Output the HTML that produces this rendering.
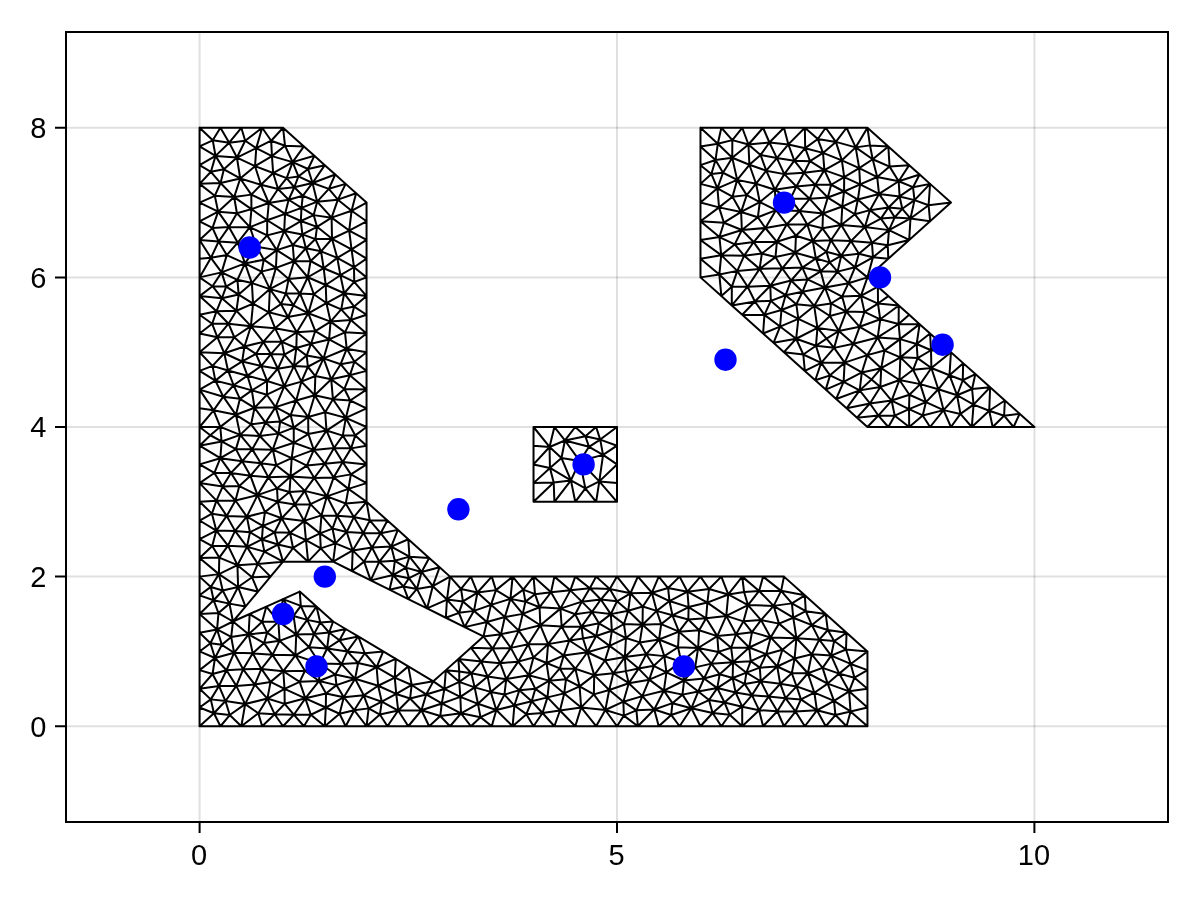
<!DOCTYPE html>
<html lang="en"><head><meta charset="utf-8"><title>Triangulation</title>
<style>html,body{margin:0;padding:0;background:#fff}svg{display:block}</style></head>
<body>
<svg width="1200" height="900" viewBox="0 0 1200 900">
<rect width="1200" height="900" fill="#fff"/>
<path d="M199.58 32 V822M617.00 32 V822M1034.42 32 V822" stroke="#000" stroke-opacity="0.12" stroke-width="2" fill="none"/>
<path d="M66 726.24 H1168M66 576.62 H1168M66 427.00 H1168M66 277.38 H1168M66 127.76 H1168" stroke="#000" stroke-opacity="0.12" stroke-width="2" fill="none"/>
<g stroke="#000" stroke-width="2" fill="none" stroke-linecap="round" stroke-linejoin="round">
<path d="M199.58 726.24L220.45 726.24M199.58 726.24L199.58 707.54M199.58 726.24L213.94 713.24M220.45 726.24L241.32 726.24M220.45 726.24L213.94 713.24M220.45 726.24L229.73 715.02M241.32 726.24L262.19 726.24M241.32 726.24L245.18 704.08M241.32 726.24L258.32 713.21M241.32 726.24L229.73 715.02M262.19 726.24L283.06 726.24M262.19 726.24L258.32 713.21M262.19 726.24L274.62 714.20M283.06 726.24L303.93 726.24M283.06 726.24L274.62 714.20M283.06 726.24L293.85 714.71M303.93 726.24L324.80 726.24M303.93 726.24L310.85 714.74M303.93 726.24L293.85 714.71M324.80 726.24L345.67 726.24M324.80 726.24L325.80 707.51M324.80 726.24L310.85 714.74M324.80 726.24L339.58 713.76M345.67 726.24L366.55 726.24M345.67 726.24L354.21 710.23M345.67 726.24L339.58 713.76M366.55 726.24L387.42 726.24M366.55 726.24L368.63 708.38M366.55 726.24L354.21 710.23M366.55 726.24L379.90 714.57M387.42 726.24L408.29 726.24M387.42 726.24L398.23 710.54M387.42 726.24L379.90 714.57M408.29 726.24L429.16 726.24M408.29 726.24L421.45 710.24M408.29 726.24L398.23 710.54M429.16 726.24L450.03 726.24M429.16 726.24L421.45 710.24M429.16 726.24L440.26 716.02M450.03 726.24L470.90 726.24M450.03 726.24L461.02 713.31M450.03 726.24L440.26 716.02M470.90 726.24L491.77 726.24M470.90 726.24L461.02 713.31M470.90 726.24L480.50 717.15M491.77 726.24L512.64 726.24M491.77 726.24L496.30 710.02M491.77 726.24L480.50 717.15M512.64 726.24L533.52 726.24M512.64 726.24L514.36 705.55M512.64 726.24L496.30 710.02M512.64 726.24L526.38 714.17M533.52 726.24L554.39 726.24M533.52 726.24L526.38 714.17M533.52 726.24L542.51 713.03M554.39 726.24L575.26 726.24M554.39 726.24L559.99 710.48M554.39 726.24L542.51 713.03M575.26 726.24L596.13 726.24M575.26 726.24L581.14 707.40M575.26 726.24L559.99 710.48M596.13 726.24L617.00 726.24M596.13 726.24L581.14 707.40M596.13 726.24L605.30 710.01M617.00 726.24L637.87 726.24M617.00 726.24L605.30 710.01M617.00 726.24L623.86 715.63M637.87 726.24L658.74 726.24M637.87 726.24L654.24 709.47M637.87 726.24L636.43 710.36M637.87 726.24L623.86 715.63M658.74 726.24L679.61 726.24M658.74 726.24L654.24 709.47M658.74 726.24L671.18 714.95M679.61 726.24L700.48 726.24M679.61 726.24L691.40 708.20M679.61 726.24L671.18 714.95M700.48 726.24L721.36 726.24M700.48 726.24L691.40 708.20M700.48 726.24L712.61 713.03M721.36 726.24L742.23 726.24M721.36 726.24L712.61 713.03M721.36 726.24L729.65 714.78M742.23 726.24L763.10 726.24M742.23 726.24L742.19 706.67M742.23 726.24L759.09 710.16M742.23 726.24L729.65 714.78M763.10 726.24L783.97 726.24M763.10 726.24L777.33 711.26M763.10 726.24L759.09 710.16M783.97 726.24L804.84 726.24M783.97 726.24L777.33 711.26M783.97 726.24L795.49 711.51M804.84 726.24L825.71 726.24M804.84 726.24L816.93 710.28M804.84 726.24L795.49 711.51M825.71 726.24L846.58 726.24M825.71 726.24L816.93 710.28M825.71 726.24L835.44 715.06M846.58 726.24L867.45 726.24M846.58 726.24L850.55 711.45M846.58 726.24L835.44 715.06M867.45 726.24L867.45 707.54M867.45 726.24L850.55 711.45M867.45 707.54L867.45 688.84M867.45 707.54L849.10 691.34M867.45 707.54L850.55 711.45M867.45 688.84L867.45 670.13M867.45 688.84L849.10 691.34M867.45 688.84L854.45 677.67M867.45 670.13L867.45 651.43M867.45 670.13L850.70 663.95M867.45 670.13L854.45 677.67M867.45 651.43L846.58 632.73M867.45 651.43L845.98 649.54M867.45 651.43L850.70 663.95M846.58 632.73L825.71 614.03M846.58 632.73L845.98 649.54M846.58 632.73L834.17 641.05M846.58 632.73L827.78 629.97M825.71 614.03L804.84 595.32M825.71 614.03L811.85 625.07M825.71 614.03L805.76 611.15M825.71 614.03L827.78 629.97M804.84 595.32L783.97 576.62M804.84 595.32L781.13 590.84M804.84 595.32L805.76 611.15M804.84 595.32L791.93 603.37M783.97 576.62L763.10 576.62M783.97 576.62L781.13 590.84M763.10 576.62L742.23 576.62M763.10 576.62L781.13 590.84M763.10 576.62L759.14 590.98M742.23 576.62L721.36 576.62M742.23 576.62L728.27 594.47M742.23 576.62L759.14 590.98M742.23 576.62L744.09 592.05M721.36 576.62L700.48 576.62M721.36 576.62L728.27 594.47M721.36 576.62L709.04 588.97M700.48 576.62L679.61 576.62M700.48 576.62L687.49 591.71M700.48 576.62L709.04 588.97M679.61 576.62L658.74 576.62M679.61 576.62L687.49 591.71M679.61 576.62L668.09 588.08M658.74 576.62L637.87 576.62M658.74 576.62L651.92 592.73M658.74 576.62L668.09 588.08M637.87 576.62L617.00 576.62M637.87 576.62L630.48 593.28M637.87 576.62L651.92 592.73M617.00 576.62L596.13 576.62M617.00 576.62L630.48 593.28M617.00 576.62L609.80 588.99M596.13 576.62L575.26 576.62M596.13 576.62L589.82 588.18M596.13 576.62L609.80 588.99M575.26 576.62L554.39 576.62M575.26 576.62L570.38 590.36M575.26 576.62L589.82 588.18M554.39 576.62L533.52 576.62M554.39 576.62L551.03 592.26M554.39 576.62L570.38 590.36M533.52 576.62L512.64 576.62M533.52 576.62L535.03 594.18M533.52 576.62L551.03 592.26M533.52 576.62L523.30 589.68M512.64 576.62L491.77 576.62M512.64 576.62L510.42 598.88M512.64 576.62L495.97 590.12M512.64 576.62L523.30 589.68M491.77 576.62L470.90 576.62M491.77 576.62L477.43 592.53M491.77 576.62L495.97 590.12M470.90 576.62L450.03 576.62M470.90 576.62L477.43 592.53M470.90 576.62L461.04 588.99M450.03 576.62L439.59 567.27M450.03 576.62L432.79 586.20M450.03 576.62L446.95 599.56M450.03 576.62L461.04 588.99M439.59 567.27L429.16 557.92M439.59 567.27L432.79 586.20M439.59 567.27L421.58 571.96M429.16 557.92L408.29 539.22M429.16 557.92L409.45 556.65M429.16 557.92L421.58 571.96M408.29 539.22L397.85 529.86M408.29 539.22L409.45 556.65M408.29 539.22L391.25 546.56M397.85 529.86L387.42 520.51M397.85 529.86L391.25 546.56M397.85 529.86L380.66 533.21M387.42 520.51L366.55 501.81M387.42 520.51L369.78 520.35M387.42 520.51L380.66 533.21M366.55 501.81L366.55 483.11M366.55 501.81L345.74 503.50M366.55 501.81L369.78 520.35M366.55 501.81L348.42 488.90M366.55 501.81L353.83 517.06M366.55 483.11L366.55 464.41M366.55 483.11L348.42 488.90M366.55 483.11L350.91 474.38M366.55 464.41L366.55 445.70M366.55 464.41L342.78 462.10M366.55 464.41L350.91 474.38M366.55 464.41L351.07 448.37M366.55 445.70L366.55 427.00M366.55 445.70L351.07 448.37M366.55 445.70L355.29 435.42M366.55 427.00L366.55 408.30M366.55 427.00L345.86 417.91M366.55 427.00L355.29 435.42M366.55 408.30L366.55 389.59M366.55 408.30L345.86 417.91M366.55 408.30L350.20 400.52M366.55 389.59L366.55 370.89M366.55 389.59L344.40 388.98M366.55 389.59L349.83 375.33M366.55 389.59L350.20 400.52M366.55 370.89L366.55 352.19M366.55 370.89L349.83 375.33M366.55 370.89L354.43 361.72M366.55 352.19L366.55 333.49M366.55 352.19L346.72 348.77M366.55 352.19L354.43 361.72M366.55 333.49L366.55 314.78M366.55 333.49L344.98 332.37M366.55 333.49L346.72 348.77M366.55 333.49L350.83 319.95M366.55 314.78L366.55 296.08M366.55 314.78L350.83 319.95M366.55 314.78L354.16 306.59M366.55 296.08L366.55 277.38M366.55 296.08L344.20 293.28M366.55 296.08L354.16 306.59M366.55 296.08L354.22 281.96M366.55 277.38L366.55 258.68M366.55 277.38L354.01 267.24M366.55 277.38L354.22 281.96M366.55 258.68L366.55 239.97M366.55 258.68L351.54 249.33M366.55 258.68L354.01 267.24M366.55 239.97L366.55 221.27M366.55 239.97L349.20 230.56M366.55 239.97L351.54 249.33M366.55 221.27L366.55 202.57M366.55 221.27L349.20 230.56M366.55 221.27L351.57 210.79M366.55 202.57L356.11 193.22M366.55 202.57L351.57 210.79M356.11 193.22L345.67 183.87M356.11 193.22L337.88 199.67M356.11 193.22L351.57 210.79M345.67 183.87L335.24 174.51M345.67 183.87L337.88 199.67M345.67 183.87L328.85 188.83M335.24 174.51L324.80 165.16M335.24 174.51L312.53 182.98M335.24 174.51L328.85 188.83M324.80 165.16L314.37 155.81M324.80 165.16L312.53 182.98M324.80 165.16L308.09 169.02M314.37 155.81L303.93 146.46M314.37 155.81L292.60 162.14M314.37 155.81L308.09 169.02M303.93 146.46L283.06 127.76M303.93 146.46L285.04 145.78M303.93 146.46L292.60 162.14M283.06 127.76L262.19 127.76M283.06 127.76L285.04 145.78M283.06 127.76L271.18 140.72M262.19 127.76L241.32 127.76M262.19 127.76L256.25 148.13M262.19 127.76L271.18 140.72M262.19 127.76L245.19 140.75M241.32 127.76L220.45 127.76M241.32 127.76L229.18 142.66M241.32 127.76L245.19 140.75M220.45 127.76L199.58 127.76M220.45 127.76L229.18 142.66M220.45 127.76L212.74 140.29M199.58 127.76L199.58 146.46M199.58 127.76L212.74 140.29M199.58 146.46L199.58 165.16M199.58 146.46L215.53 155.90M199.58 146.46L212.74 140.29M199.58 165.16L199.58 183.87M199.58 165.16L215.53 155.90M199.58 165.16L210.92 171.78M199.58 183.87L199.58 202.57M199.58 183.87L220.57 183.03M199.58 183.87L214.79 195.83M199.58 183.87L210.92 171.78M199.58 202.57L199.58 221.27M199.58 202.57L218.16 211.70M199.58 202.57L214.79 195.83M199.58 221.27L199.58 239.97M199.58 221.27L218.16 211.70M199.58 221.27L212.51 227.95M199.58 239.97L199.58 258.68M199.58 239.97L218.64 241.47M199.58 239.97L212.51 227.95M199.58 239.97L210.95 257.79M199.58 258.68L199.58 277.38M199.58 258.68L210.95 257.79M199.58 277.38L199.58 296.08M199.58 277.38L221.60 272.37M199.58 277.38L212.49 286.24M199.58 277.38L210.95 257.79M199.58 296.08L199.58 314.78M199.58 296.08L221.87 298.23M199.58 296.08L216.55 311.19M199.58 296.08L212.49 286.24M199.58 314.78L199.58 333.49M199.58 314.78L216.55 311.19M199.58 314.78L212.16 323.79M199.58 333.49L199.58 352.19M199.58 333.49L217.35 337.18M199.58 333.49L212.16 323.79M199.58 352.19L199.58 370.89M199.58 352.19L217.35 337.18M199.58 352.19L224.28 353.27M199.58 352.19L212.50 365.87M199.58 370.89L199.58 389.59M199.58 370.89L215.35 380.63M199.58 370.89L212.50 365.87M199.58 389.59L199.58 408.30M199.58 389.59L223.28 396.69M199.58 389.59L215.35 380.63M199.58 389.59L213.59 410.34M199.58 408.30L199.58 427.00M199.58 408.30L213.59 410.34M199.58 427.00L199.58 445.70M199.58 427.00L220.29 426.84M199.58 427.00L213.59 410.34M199.58 427.00L210.30 435.25M199.58 445.70L199.58 464.41M199.58 445.70L221.58 441.48M199.58 445.70L220.33 458.21M199.58 445.70L210.30 435.25M199.58 464.41L199.58 483.11M199.58 464.41L220.33 458.21M199.58 464.41L214.38 472.95M199.58 483.11L199.58 501.81M199.58 483.11L222.66 486.57M199.58 483.11L216.47 500.63M199.58 483.11L214.38 472.95M199.58 501.81L199.58 520.51M199.58 501.81L216.47 500.63M199.58 501.81L211.96 513.64M199.58 520.51L199.58 539.22M199.58 520.51L216.31 530.61M199.58 520.51L211.96 513.64M199.58 539.22L199.58 557.92M199.58 539.22L216.31 530.61M199.58 539.22L212.23 546.08M199.58 557.92L199.58 576.62M199.58 557.92L219.28 557.60M199.58 557.92L218.92 574.13M199.58 557.92L212.23 546.08M199.58 576.62L199.58 595.32M199.58 576.62L218.92 574.13M199.58 576.62L210.82 586.92M199.58 595.32L199.58 614.03M199.58 595.32L210.82 586.92M199.58 595.32L213.64 600.25M199.58 614.03L199.58 632.73M199.58 614.03L218.48 613.05M199.58 614.03L217.07 629.44M199.58 614.03L213.64 600.25M199.58 632.73L199.58 651.43M199.58 632.73L217.07 629.44M199.58 632.73L210.47 643.20M199.58 651.43L199.58 670.13M199.58 651.43L215.01 657.96M199.58 651.43L210.47 643.20M199.58 670.13L199.58 688.84M199.58 670.13L215.01 657.96M199.58 670.13L212.53 674.03M199.58 688.84L199.58 707.54M199.58 688.84L218.98 685.98M199.58 688.84L210.77 699.37M199.58 688.84L212.53 674.03M199.58 707.54L213.94 713.24M199.58 707.54L210.77 699.37M232.97 621.51L249.67 614.03M232.97 621.51L245.49 606.55M232.97 621.51L218.48 613.05M232.97 621.51L248.60 634.31M232.97 621.51L217.07 629.44M232.97 621.51L229.44 603.63M232.97 621.51L231.18 636.91M249.67 614.03L266.36 606.55M249.67 614.03L248.60 634.31M249.67 614.03L262.19 621.82M266.36 606.55L283.06 599.06M266.36 606.55L278.39 621.42M266.36 606.55L262.19 621.82M283.06 599.06L299.76 591.58M283.06 599.06L293.57 615.95M283.06 599.06L278.39 621.42M283.06 599.06L300.81 605.91M299.76 591.58L316.45 606.55M299.76 591.58L300.81 605.91M316.45 606.55L333.15 621.51M316.45 606.55L307.20 619.87M316.45 606.55L300.81 605.91M316.45 606.55L320.30 622.40M333.15 621.51L345.67 628.99M333.15 621.51L329.11 632.52M333.15 621.51L320.30 622.40M345.67 628.99L358.20 636.47M345.67 628.99L339.48 640.30M345.67 628.99L329.11 632.52M358.20 636.47L383.24 651.43M358.20 636.47L347.38 651.43M358.20 636.47L364.77 653.25M358.20 636.47L339.48 640.30M383.24 651.43L395.77 658.91M383.24 651.43L376.60 667.22M383.24 651.43L364.77 653.25M395.77 658.91L408.29 666.39M395.77 658.91L394.76 677.66M395.77 658.91L376.60 667.22M408.29 666.39L433.33 681.36M408.29 666.39L394.76 677.66M408.29 666.39L411.70 684.99M433.33 681.36L445.86 670.13M433.33 681.36L411.70 684.99M433.33 681.36L426.16 694.44M433.33 681.36L444.39 688.93M445.86 670.13L458.38 658.91M445.86 670.13L459.24 681.84M445.86 670.13L444.39 688.93M445.86 670.13L459.21 671.42M458.38 658.91L470.90 647.69M458.38 658.91L471.34 673.27M458.38 658.91L481.24 661.52M458.38 658.91L459.21 671.42M470.90 647.69L483.42 636.47M470.90 647.69L481.24 661.52M470.90 647.69L492.65 648.57M483.42 636.47L464.64 627.12M483.42 636.47L501.06 634.14M483.42 636.47L486.90 621.91M483.42 636.47L492.65 648.57M464.64 627.12L445.86 617.77M464.64 627.12L474.00 610.87M464.64 627.12L486.90 621.91M464.64 627.12L458.94 612.84M445.86 617.77L427.07 608.42M445.86 617.77L446.95 599.56M445.86 617.77L458.94 612.84M427.07 608.42L408.29 599.06M427.07 608.42L432.79 586.20M427.07 608.42L446.95 599.56M427.07 608.42L416.91 588.90M408.29 599.06L389.50 589.71M408.29 599.06L416.91 588.90M408.29 599.06L403.47 586.47M389.50 589.71L370.72 580.36M389.50 589.71L393.00 575.01M389.50 589.71L403.47 586.47M370.72 580.36L351.94 571.01M370.72 580.36L379.33 561.69M370.72 580.36L393.00 575.01M370.72 580.36L364.12 561.63M351.94 571.01L333.15 561.66M351.94 571.01L352.69 550.40M351.94 571.01L364.12 561.63M333.15 561.66L308.11 561.66M333.15 561.66L352.69 550.40M333.15 561.66L320.79 548.39M333.15 561.66L335.52 543.42M308.11 561.66L283.06 561.66M308.11 561.66L293.04 547.98M308.11 561.66L320.79 548.39M308.11 561.66L305.98 540.14M283.06 561.66L270.54 576.62M283.06 561.66L264.39 551.63M283.06 561.66L293.04 547.98M283.06 561.66L257.79 563.89M283.06 561.66L277.91 544.51M270.54 576.62L258.02 591.58M270.54 576.62L257.79 563.89M270.54 576.62L252.09 577.26M258.02 591.58L245.49 606.55M258.02 591.58L238.09 587.03M258.02 591.58L252.09 577.26M245.49 606.55L238.09 587.03M245.49 606.55L229.44 603.63M569.34 640.50L581.54 626.68M569.34 640.50L587.40 652.24M569.34 640.50L548.10 644.12M569.34 640.50L563.77 655.44M569.34 640.50L561.68 626.46M569.34 640.50L582.99 638.53M639.78 642.40L624.85 657.05M639.78 642.40L659.03 639.54M639.78 642.40L642.57 624.69M639.78 642.40L646.21 654.28M639.78 642.40L625.95 638.03M277.00 488.42L257.51 495.12M277.00 488.42L290.57 476.38M277.00 488.42L268.40 477.36M277.00 488.42L277.74 501.72M277.00 488.42L289.49 492.08M290.65 415.06L275.55 407.16M290.65 415.06L308.17 416.99M290.65 415.06L296.19 400.44M290.65 415.06L293.72 427.64M290.65 415.06L280.18 421.59M284.33 354.57L293.92 366.08M284.33 354.57L270.86 354.08M284.33 354.57L281.83 341.85M284.33 354.57L296.31 348.00M284.33 354.57L277.86 368.71M288.64 279.12L300.07 293.55M288.64 279.12L269.85 289.10M288.64 279.12L307.77 277.25M288.64 279.12L294.03 261.21M288.64 279.12L275.93 267.93M288.64 279.12L285.76 293.55M268.77 203.00L260.97 184.82M268.77 203.00L288.65 199.72M268.77 203.00L251.43 209.12M268.77 203.00L285.04 213.90M268.77 203.00L267.21 220.25M268.77 203.00L251.32 194.62M268.77 203.00L278.04 188.98M718.46 651.91L733.02 662.32M718.46 651.91L698.12 647.98M718.46 651.91L717.30 636.12M718.46 651.91L711.28 663.65M718.46 651.91L731.15 647.77M777.21 666.51L759.81 667.66M777.21 666.51L780.22 683.71M777.21 666.51L794.60 658.46M777.21 666.51L766.22 654.16M777.21 666.51L760.76 681.25M777.21 666.51L782.37 649.79M777.21 666.51L791.82 673.22M283.33 671.22L304.96 670.79M283.33 671.22L261.39 668.90M283.33 671.22L284.53 688.82M283.33 671.22L295.41 655.34M283.33 671.22L272.50 654.87M283.33 671.22L299.69 681.85M283.33 671.22L270.56 681.89M528.75 675.23L546.53 663.00M528.75 675.23L549.23 680.65M528.75 675.23L518.21 661.63M528.75 675.23L506.25 679.16M528.75 675.23L519.37 690.15M528.75 675.23L533.44 657.52M528.75 675.23L535.32 688.85M253.04 303.63L250.89 326.18M253.04 303.63L269.85 289.10M253.04 303.63L238.67 294.58M253.04 303.63L268.82 312.29M253.04 303.63L236.44 310.73M253.04 303.63L251.91 283.10M613.30 673.24L628.77 683.20M613.30 673.24L624.85 657.05M613.30 673.24L594.22 675.14M613.30 673.24L605.02 660.48M613.30 673.24L609.21 689.99M613.30 673.24L625.82 671.12M252.26 449.35L240.19 434.88M252.26 449.35L272.79 449.64M252.26 449.35L242.18 461.31M252.26 449.35L260.79 463.30M252.26 449.35L259.75 435.95M252.26 449.35L235.93 449.16M666.46 672.35L664.27 656.12M666.46 672.35L663.86 690.67M666.46 672.35L684.07 680.51M666.46 672.35L649.25 679.64M666.46 672.35L681.31 661.94M666.46 672.35L653.86 665.81M315.43 239.09L332.01 238.76M315.43 239.09L317.02 226.84M315.43 239.09L321.05 251.32M315.43 239.09L302.40 234.43M315.43 239.09L305.90 248.30M313.80 449.92L291.68 458.17M313.80 449.92L308.32 434.04M313.80 449.92L306.83 465.60M313.80 449.92L326.49 430.54M313.80 449.92L293.79 442.76M313.80 449.92L334.03 448.01M313.80 449.92L324.85 463.77M321.46 515.39L320.04 533.35M321.46 515.39L337.13 515.71M321.46 515.39L304.14 520.91M321.46 515.39L326.92 496.34M321.46 515.39L332.48 528.57M321.46 515.39L310.47 504.15M308.32 313.28L300.07 293.55M308.32 313.28L296.78 332.23M308.32 313.28L326.38 303.04M308.32 313.28L330.57 321.59M308.32 313.28L315.29 331.04M308.32 313.28L288.04 317.10M308.32 313.28L293.43 305.31M308.32 313.28L313.85 294.26M249.94 532.20L246.81 516.67M249.94 532.20L235.04 530.88M249.94 532.20L246.97 546.84M249.94 532.20L262.90 525.89M249.94 532.20L261.92 539.44M335.30 674.54L355.10 678.80M335.30 674.54L319.83 663.52M335.30 674.54L319.09 680.98M335.30 674.54L336.47 685.11M335.30 674.54L341.61 664.05M251.85 390.38L267.08 380.98M251.85 390.38L247.42 375.69M251.85 390.38L254.56 407.81M251.85 390.38L233.62 385.24M251.85 390.38L239.93 398.84M251.85 390.38L266.90 394.71M256.66 246.65L276.77 250.13M256.66 246.65L249.89 227.17M256.66 246.65L237.78 242.67M256.66 246.65L267.15 235.38M256.66 246.65L244.97 263.42M256.66 246.65L263.81 259.67M688.33 619.48L699.12 630.27M688.33 619.48L678.94 631.69M688.33 619.48L706.14 618.23M688.33 619.48L688.60 607.09M688.33 619.48L672.44 615.32M522.73 613.89L540.34 625.28M522.73 613.89L510.42 598.88M522.73 613.89L504.83 617.08M522.73 613.89L539.57 607.20M522.73 613.89L518.71 630.63M522.73 613.89L525.42 601.65M761.06 620.08L747.97 605.07M761.06 620.08L770.64 637.42M761.06 620.08L773.63 605.88M761.06 620.08L743.46 621.36M761.06 620.08L751.99 632.14M761.06 620.08L778.99 623.63M315.35 376.02L314.69 395.31M315.35 376.02L323.55 358.41M315.35 376.02L301.39 381.62M315.35 376.02L331.23 379.34M315.35 376.02L307.90 366.75M598.93 623.34L581.54 626.68M598.93 623.34L596.19 636.04M598.93 623.34L610.82 614.11M598.93 623.34L592.07 611.87M598.93 623.34L611.86 630.79M255.03 166.18L271.95 156.15M255.03 166.18L260.97 184.82M255.03 166.18L256.25 148.13M255.03 166.18L240.22 178.49M255.03 166.18L236.93 157.54M255.03 166.18L273.14 173.02M827.65 683.57L807.85 673.26M827.65 683.57L834.01 700.92M827.65 683.57L839.22 673.61M827.65 683.57L849.10 691.34M827.65 683.57L814.38 692.70M827.65 683.57L822.58 667.91M564.21 693.40L549.23 680.65M564.21 693.40L581.14 707.40M564.21 693.40L559.99 710.48M564.21 693.40L566.00 679.29M564.21 693.40L579.60 686.39M564.21 693.40L547.48 697.36M744.66 683.89L760.76 681.25M744.66 683.89L735.61 692.50M744.66 683.89L751.98 695.14M744.66 683.89L746.45 672.67M744.66 683.89L732.66 678.05M490.72 691.90L477.97 703.82M490.72 691.90L506.25 679.16M490.72 691.90L496.30 710.02M490.72 691.90L474.64 687.37M490.72 691.90L504.42 694.60M490.72 691.90L487.64 676.58M236.32 685.89L226.51 670.25M236.32 685.89L225.45 701.04M236.32 685.89L245.18 704.08M236.32 685.89L218.98 685.98M236.32 685.89L254.80 684.60M236.32 685.89L243.13 669.32M378.13 685.74L381.79 701.69M378.13 685.74L394.76 677.66M378.13 685.74L355.10 678.80M378.13 685.74L376.60 667.22M378.13 685.74L363.75 695.33M378.13 685.74L396.24 693.94M698.30 691.47L691.40 708.20M698.30 691.47L684.07 680.51M698.30 691.47L717.26 688.07M698.30 691.47L704.04 678.49M698.30 691.47L682.47 694.63M698.30 691.47L709.02 700.05M317.17 201.69L331.60 217.64M317.17 201.69L312.53 182.98M317.17 201.69L337.88 199.67M317.17 201.69L328.85 188.83M317.17 201.69L301.50 207.86M317.17 201.69L313.71 215.12M317.17 201.69L302.79 195.77M244.46 346.43L250.89 326.18M244.46 346.43L263.30 341.86M244.46 346.43L224.28 353.27M244.46 346.43L234.30 337.26M244.46 346.43L242.19 361.47M244.46 346.43L255.95 353.94M329.10 339.41L344.98 332.37M329.10 339.41L330.57 321.59M329.10 339.41L346.72 348.77M329.10 339.41L323.55 358.41M329.10 339.41L315.29 331.04M329.10 339.41L311.04 343.71M235.96 414.81L223.28 396.69M235.96 414.81L240.19 434.88M235.96 414.81L220.29 426.84M235.96 414.81L254.56 407.81M235.96 414.81L213.59 410.34M235.96 414.81L239.93 398.84M235.96 414.81L251.08 424.36M726.26 615.89L707.36 602.58M726.26 615.89L747.97 605.07M726.26 615.89L736.06 634.28M726.26 615.89L728.27 594.47M726.26 615.89L743.46 621.36M726.26 615.89L717.30 636.12M726.26 615.89L706.14 618.23M296.23 634.53L293.57 615.95M296.23 634.53L314.04 634.04M296.23 634.53L295.41 655.34M296.23 634.53L278.39 621.42M296.23 634.53L309.19 647.20M296.23 634.53L307.20 619.87M296.23 634.53L279.58 640.85M796.45 638.21L793.24 617.72M796.45 638.21L770.64 637.42M796.45 638.21L819.29 639.66M796.45 638.21L794.60 658.46M796.45 638.21L811.85 625.07M796.45 638.21L811.78 654.31M796.45 638.21L778.99 623.63M796.45 638.21L782.37 649.79M237.42 279.85L221.60 272.37M237.42 279.85L238.67 294.58M237.42 279.85L244.97 263.42M237.42 279.85L226.16 286.58M237.42 279.85L251.91 283.10M235.47 500.46L226.72 515.92M235.47 500.46L222.66 486.57M235.47 500.46L257.51 495.12M235.47 500.46L246.81 516.67M235.47 500.46L216.47 500.63M235.47 500.46L239.32 486.07M642.35 696.13L623.37 701.68M642.35 696.13L663.86 690.67M642.35 696.13L628.77 683.20M642.35 696.13L654.24 709.47M642.35 696.13L636.43 710.36M642.35 696.13L649.25 679.64M305.35 698.33L325.80 707.51M305.35 698.33L284.53 688.82M305.35 698.33L284.70 703.84M305.35 698.33L326.00 693.42M305.35 698.33L310.85 714.74M305.35 698.33L299.69 681.85M305.35 698.33L319.09 680.98M305.35 698.33L293.85 714.71M325.73 285.03L340.40 275.22M325.73 285.03L326.38 303.04M325.73 285.03L344.20 293.28M325.73 285.03L307.77 277.25M325.73 285.03L323.66 268.23M325.73 285.03L313.85 294.26M642.76 606.58L630.48 593.28M642.76 606.58L651.92 592.73M642.76 606.58L642.57 624.69M642.76 606.58L628.23 610.77M642.76 606.58L656.69 610.86M333.70 477.38L342.78 462.10M333.70 477.38L348.42 488.90M333.70 477.38L326.92 496.34M333.70 477.38L350.91 474.38M333.70 477.38L314.31 477.95M333.70 477.38L324.85 463.77M234.14 197.10L218.16 211.70M234.14 197.10L251.43 209.12M234.14 197.10L220.57 183.03M234.14 197.10L240.22 178.49M234.14 197.10L236.93 213.28M234.14 197.10L214.79 195.83M234.14 197.10L251.32 194.62M252.75 653.35L261.39 668.90M252.75 653.35L248.60 634.31M252.75 653.35L272.50 654.87M252.75 653.35L234.10 652.78M252.75 653.35L243.13 669.32M252.75 653.35L264.09 643.07M290.01 532.87L274.61 532.28M290.01 532.87L293.04 547.98M290.01 532.87L304.14 520.91M290.01 532.87L281.71 518.27M290.01 532.87L305.98 540.14M290.01 532.87L277.91 544.51M286.66 178.13L292.60 162.14M286.66 178.13L273.14 173.02M286.66 178.13L278.04 188.98M286.66 178.13L294.33 187.26M286.66 178.13L298.41 176.40M800.95 699.38L816.93 710.28M800.95 699.38L814.38 692.70M800.95 699.38L795.49 711.51M800.95 699.38L796.59 686.42M800.95 699.38L785.49 698.13M325.20 412.27L314.69 395.31M325.20 412.27L345.86 417.91M325.20 412.27L326.49 430.54M325.20 412.27L308.17 416.99M325.20 412.27L332.93 399.28M528.28 644.32L540.34 625.28M528.28 644.32L518.21 661.63M528.28 644.32L548.10 644.12M528.28 644.32L518.71 630.63M528.28 644.32L533.44 657.52M528.28 644.32L510.83 647.87M237.46 565.17L228.01 545.66M237.46 565.17L238.09 587.03M237.46 565.17L219.28 557.60M237.46 565.17L218.92 574.13M237.46 565.17L257.79 563.89M237.46 565.17L246.97 546.84M237.46 565.17L252.09 577.26M749.21 647.48L770.64 637.42M749.21 647.48L736.06 634.28M749.21 647.48L733.02 662.32M749.21 647.48L766.22 654.16M749.21 647.48L751.99 632.14M749.21 647.48L731.15 647.77M749.21 647.48L750.72 661.13M560.41 608.61L581.84 601.65M560.41 608.61L540.34 625.28M560.41 608.61L551.03 592.26M560.41 608.61L561.68 626.46M560.41 608.61L539.57 607.20M560.41 608.61L570.38 590.36M560.41 608.61L575.23 614.30M491.00 604.85L510.42 598.88M491.00 604.85L504.83 617.08M491.00 604.85L474.00 610.87M491.00 604.85L477.43 592.53M491.00 604.85L486.90 621.91M491.00 604.85L495.97 590.12M410.08 698.51L421.45 710.24M410.08 698.51L411.70 684.99M410.08 698.51L398.23 710.54M410.08 698.51L426.16 694.44M410.08 698.51L396.24 693.94M346.69 531.96L352.69 550.40M346.69 531.96L337.13 515.71M346.69 531.96L363.35 533.02M346.69 531.96L335.52 543.42M346.69 531.96L332.48 528.57M346.69 531.96L353.83 517.06M228.93 226.90L249.89 227.17M228.93 226.90L218.16 211.70M228.93 226.90L218.64 241.47M228.93 226.90L237.78 242.67M228.93 226.90L236.93 213.28M228.93 226.90L212.51 227.95M678.01 647.26L664.27 656.12M678.01 647.26L678.94 631.69M678.01 647.26L698.12 647.98M678.01 647.26L659.03 639.54M678.01 647.26L681.31 661.94M230.98 472.92L250.45 475.80M230.98 472.92L222.66 486.57M230.98 472.92L220.33 458.21M230.98 472.92L242.18 461.31M230.98 472.92L214.38 472.95M230.98 472.92L239.32 486.07M291.68 458.17L306.83 465.60M291.68 458.17L276.27 465.17M291.68 458.17L272.79 449.64M291.68 458.17L293.79 442.76M291.68 458.17L290.57 476.38M460.33 696.82L441.82 703.44M460.33 696.82L477.97 703.82M460.33 696.82L459.24 681.84M460.33 696.82L461.02 713.31M460.33 696.82L474.64 687.37M460.33 696.82L444.39 688.93M284.20 230.91L276.77 250.13M284.20 230.91L300.83 221.02M284.20 230.91L292.76 244.98M284.20 230.91L267.15 235.38M284.20 230.91L285.04 213.90M284.20 230.91L267.21 220.25M284.20 230.91L302.40 234.43M831.16 655.59L839.22 673.61M831.16 655.59L819.29 639.66M831.16 655.59L845.98 649.54M831.16 655.59L811.78 654.31M831.16 655.59L822.58 667.91M831.16 655.59L850.70 663.95M831.16 655.59L834.17 641.05M575.33 668.75L587.40 652.24M575.33 668.75L594.22 675.14M575.33 668.75L563.77 655.44M575.33 668.75L566.00 679.29M575.33 668.75L579.60 686.39M575.33 668.75L559.82 668.44M275.11 328.35L250.89 326.18M275.11 328.35L263.30 341.86M275.11 328.35L296.78 332.23M275.11 328.35L288.04 317.10M275.11 328.35L268.82 312.29M275.11 328.35L281.83 341.85M337.26 257.88L340.40 275.22M337.26 257.88L332.01 238.76M337.26 257.88L351.54 249.33M337.26 257.88L323.66 268.23M337.26 257.88L321.05 251.32M337.26 257.88L354.01 267.24M228.56 323.72L250.89 326.18M228.56 323.72L217.35 337.18M228.56 323.72L216.55 311.19M228.56 323.72L234.30 337.26M228.56 323.72L236.44 310.73M228.56 323.72L212.16 323.79M327.10 648.48L314.04 634.04M327.10 648.48L347.38 651.43M327.10 648.48L319.83 663.52M327.10 648.48L309.19 647.20M327.10 648.48L339.48 640.30M327.10 648.48L329.11 632.52M327.10 648.48L341.61 664.05M284.22 386.42L275.55 407.16M284.22 386.42L267.08 380.98M284.22 386.42L293.92 366.08M284.22 386.42L296.19 400.44M284.22 386.42L301.39 381.62M284.22 386.42L266.90 394.71M284.22 386.42L277.86 368.71M768.60 696.61L780.22 683.71M768.60 696.61L777.33 711.26M768.60 696.61L759.09 710.16M768.60 696.61L760.76 681.25M768.60 696.61L751.98 695.14M768.60 696.61L785.49 698.13M343.79 697.22L325.80 707.51M343.79 697.22L326.00 693.42M343.79 697.22L355.10 678.80M343.79 697.22L354.21 710.23M343.79 697.22L363.75 695.33M343.79 697.22L336.47 685.11M343.79 697.22L339.58 713.76M267.40 698.58L245.18 704.08M267.40 698.58L284.53 688.82M267.40 698.58L284.70 703.84M267.40 698.58L254.80 684.60M267.40 698.58L258.32 713.21M267.40 698.58L274.62 714.20M267.40 698.58L270.56 681.89M227.99 370.43L247.42 375.69M227.99 370.43L224.28 353.27M227.99 370.43L215.35 380.63M227.99 370.43L233.62 385.24M227.99 370.43L242.19 361.47M227.99 370.43L212.50 365.87M593.85 694.39L581.14 707.40M593.85 694.39L594.22 675.14M593.85 694.39L605.30 710.01M593.85 694.39L609.21 689.99M593.85 694.39L579.60 686.39M609.59 645.86L587.40 652.24M609.59 645.86L624.85 657.05M609.59 645.86L605.02 660.48M609.59 645.86L596.19 636.04M609.59 645.86L625.95 638.03M609.59 645.86L611.86 630.79M672.44 703.16L691.40 708.20M672.44 703.16L663.86 690.67M672.44 703.16L654.24 709.47M672.44 703.16L671.18 714.95M672.44 703.16L682.47 694.63M372.03 547.43L352.69 550.40M372.03 547.43L379.33 561.69M372.03 547.43L391.25 546.56M372.03 547.43L363.35 533.02M372.03 547.43L380.66 533.21M372.03 547.43L364.12 561.63M331.60 217.64L349.20 230.56M331.60 217.64L337.88 199.67M331.60 217.64L332.01 238.76M331.60 217.64L317.02 226.84M331.60 217.64L351.57 210.79M331.60 217.64L313.71 215.12M500.24 663.16L518.21 661.63M500.24 663.16L506.25 679.16M500.24 663.16L481.24 661.52M500.24 663.16L492.65 648.57M500.24 663.16L510.83 647.87M500.24 663.16L487.64 676.58M638.60 668.60L628.77 683.20M638.60 668.60L624.85 657.05M638.60 668.60L646.21 654.28M638.60 668.60L649.25 679.64M638.60 668.60L653.86 665.81M638.60 668.60L625.82 671.12M340.64 364.19L346.72 348.77M340.64 364.19L349.83 375.33M340.64 364.19L323.55 358.41M340.64 364.19L331.23 379.34M340.64 364.19L354.43 361.72M531.72 701.21L514.36 705.55M531.72 701.21L526.38 714.17M531.72 701.21L519.37 690.15M531.72 701.21L542.51 713.03M531.72 701.21L547.48 697.36M531.72 701.21L535.32 688.85M793.24 617.72L773.63 605.88M793.24 617.72L811.85 625.07M793.24 617.72L778.99 623.63M793.24 617.72L805.76 611.15M793.24 617.72L791.93 603.37M616.99 601.29L600.81 599.54M616.99 601.29L630.48 593.28M616.99 601.29L628.23 610.77M616.99 601.29L610.82 614.11M616.99 601.29L609.80 588.99M265.47 422.60L278.38 433.63M265.47 422.60L275.55 407.16M265.47 422.60L254.56 407.81M265.47 422.60L259.75 435.95M265.47 422.60L251.08 424.36M265.47 422.60L280.18 421.59M221.58 441.48L240.19 434.88M221.58 441.48L220.33 458.21M221.58 441.48L220.29 426.84M221.58 441.48L235.93 449.16M221.58 441.48L210.30 435.25M341.20 309.33L326.38 303.04M341.20 309.33L330.57 321.59M341.20 309.33L344.20 293.28M341.20 309.33L350.83 319.95M341.20 309.33L354.16 306.59M344.40 388.98L349.83 375.33M344.40 388.98L332.93 399.28M344.40 388.98L350.20 400.52M344.40 388.98L331.23 379.34M342.79 435.59L345.86 417.91M342.79 435.59L326.49 430.54M342.79 435.59L351.07 448.37M342.79 435.59L334.03 448.01M342.79 435.59L355.29 435.42M320.04 533.35L304.14 520.91M320.04 533.35L320.79 548.39M320.04 533.35L335.52 543.42M320.04 533.35L305.98 540.14M320.04 533.35L332.48 528.57M264.99 512.11L257.51 495.12M264.99 512.11L246.81 516.67M264.99 512.11L281.71 518.27M264.99 512.11L277.74 501.72M264.99 512.11L262.90 525.89M546.53 663.00L549.23 680.65M546.53 663.00L548.10 644.12M546.53 663.00L563.77 655.44M546.53 663.00L533.44 657.52M546.53 663.00L559.82 668.44M222.73 590.50L238.09 587.03M222.73 590.50L218.92 574.13M222.73 590.50L229.44 603.63M222.73 590.50L210.82 586.92M222.73 590.50L213.64 600.25M724.51 702.48L742.19 706.67M724.51 702.48L717.26 688.07M724.51 702.48L712.61 713.03M724.51 702.48L729.65 714.78M724.51 702.48L735.61 692.50M724.51 702.48L709.02 700.05M261.27 366.01L267.08 380.98M261.27 366.01L247.42 375.69M261.27 366.01L242.19 361.47M261.27 366.01L255.95 353.94M261.27 366.01L270.86 354.08M261.27 366.01L277.86 368.71M228.01 545.66L219.28 557.60M228.01 545.66L216.31 530.61M228.01 545.66L235.04 530.88M228.01 545.66L246.97 546.84M228.01 545.66L212.23 546.08M267.11 632.61L248.60 634.31M267.11 632.61L278.39 621.42M267.11 632.61L279.58 640.85M267.11 632.61L262.19 621.82M267.11 632.61L264.09 643.07M707.36 602.58L687.49 591.71M707.36 602.58L728.27 594.47M707.36 602.58L706.14 618.23M707.36 602.58L688.60 607.09M707.36 602.58L709.04 588.97M394.86 560.82L409.45 556.65M394.86 560.82L379.33 561.69M394.86 560.82L391.25 546.56M394.86 560.82L393.00 575.01M394.86 560.82L406.01 567.61M226.78 255.10L221.60 272.37M226.78 255.10L218.64 241.47M226.78 255.10L237.78 242.67M226.78 255.10L244.97 263.42M226.78 255.10L210.95 257.79M304.76 490.90L294.84 504.42M304.76 490.90L326.92 496.34M304.76 490.90L290.57 476.38M304.76 490.90L314.31 477.95M304.76 490.90L310.47 504.15M304.76 490.90L289.49 492.08M221.87 644.83L217.07 629.44M221.87 644.83L234.10 652.78M221.87 644.83L215.01 657.96M221.87 644.83L231.18 636.91M221.87 644.83L210.47 643.20M719.67 674.20L733.02 662.32M719.67 674.20L717.26 688.07M719.67 674.20L711.28 663.65M719.67 674.20L704.04 678.49M719.67 674.20L732.66 678.05M223.89 169.35L220.57 183.03M223.89 169.35L240.22 178.49M223.89 169.35L215.53 155.90M223.89 169.35L236.93 157.54M223.89 169.35L210.92 171.78M306.66 355.58L293.92 366.08M306.66 355.58L323.55 358.41M306.66 355.58L307.90 366.75M306.66 355.58L296.31 348.00M306.66 355.58L311.04 343.71M699.12 630.27L678.94 631.69M699.12 630.27L698.12 647.98M699.12 630.27L717.30 636.12M699.12 630.27L706.14 618.23M280.93 304.05L269.85 289.10M280.93 304.05L288.04 317.10M280.93 304.05L268.82 312.29M280.93 304.05L285.76 293.55M280.93 304.05L293.43 305.31M581.84 601.65L600.81 599.54M581.84 601.65L570.38 590.36M581.84 601.65L575.23 614.30M581.84 601.65L592.07 611.87M581.84 601.65L589.82 588.18M261.55 271.61L269.85 289.10M261.55 271.61L244.97 263.42M261.55 271.61L275.93 267.93M261.55 271.61L251.91 283.10M261.55 271.61L263.81 259.67M226.72 515.92L216.31 530.61M226.72 515.92L246.81 516.67M226.72 515.92L216.47 500.63M226.72 515.92L235.04 530.88M226.72 515.92L211.96 513.64M264.39 551.63L257.79 563.89M264.39 551.63L277.91 544.51M264.39 551.63L246.97 546.84M264.39 551.63L261.92 539.44M304.96 670.79L295.41 655.34M304.96 670.79L299.69 681.85M304.96 670.79L319.83 663.52M304.96 670.79L319.09 680.98M747.97 605.07L773.63 605.88M747.97 605.07L728.27 594.47M747.97 605.07L743.46 621.36M747.97 605.07L759.14 590.98M747.97 605.07L744.09 592.05M221.87 298.23L238.67 294.58M221.87 298.23L216.55 311.19M221.87 298.23L236.44 310.73M221.87 298.23L226.16 286.58M221.87 298.23L212.49 286.24M276.77 250.13L292.76 244.98M276.77 250.13L267.15 235.38M276.77 250.13L294.03 261.21M276.77 250.13L275.93 267.93M276.77 250.13L263.81 259.67M462.91 601.42L474.00 610.87M462.91 601.42L477.43 592.53M462.91 601.42L446.95 599.56M462.91 601.42L461.04 588.99M462.91 601.42L458.94 612.84M408.99 578.16L393.00 575.01M408.99 578.16L421.58 571.96M408.99 578.16L406.01 567.61M408.99 578.16L416.91 588.90M408.99 578.16L403.47 586.47M623.37 701.68L628.77 683.20M623.37 701.68L605.30 710.01M623.37 701.68L609.21 689.99M623.37 701.68L636.43 710.36M623.37 701.68L623.86 715.63M807.85 673.26L794.60 658.46M807.85 673.26L814.38 692.70M807.85 673.26L811.78 654.31M807.85 673.26L822.58 667.91M807.85 673.26L796.59 686.42M807.85 673.26L791.82 673.22M358.12 663.03L347.38 651.43M358.12 663.03L355.10 678.80M358.12 663.03L376.60 667.22M358.12 663.03L364.77 653.25M358.12 663.03L341.61 664.05M250.45 475.80L257.51 495.12M250.45 475.80L242.18 461.31M250.45 475.80L260.79 463.30M250.45 475.80L239.32 486.07M250.45 475.80L268.40 477.36M271.95 156.15L256.25 148.13M271.95 156.15L285.04 145.78M271.95 156.15L292.60 162.14M271.95 156.15L271.18 140.72M271.95 156.15L273.14 173.02M223.28 396.69L215.35 380.63M223.28 396.69L213.59 410.34M223.28 396.69L233.62 385.24M223.28 396.69L239.93 398.84M661.19 624.12L678.94 631.69M661.19 624.12L659.03 639.54M661.19 624.12L642.57 624.69M661.19 624.12L672.44 615.32M661.19 624.12L656.69 610.86M669.47 601.03L687.49 591.71M669.47 601.03L651.92 592.73M669.47 601.03L688.60 607.09M669.47 601.03L668.09 588.08M669.47 601.03L672.44 615.32M669.47 601.03L656.69 610.86M345.74 503.50L348.42 488.90M345.74 503.50L337.13 515.71M345.74 503.50L326.92 496.34M345.74 503.50L353.83 517.06M535.03 594.18L551.03 592.26M535.03 594.18L539.57 607.20M535.03 594.18L523.30 589.68M535.03 594.18L525.42 601.65M514.36 705.55L496.30 710.02M514.36 705.55L526.38 714.17M514.36 705.55L519.37 690.15M514.36 705.55L504.42 694.60M249.89 227.17L251.43 209.12M249.89 227.17L237.78 242.67M249.89 227.17L267.15 235.38M249.89 227.17L236.93 213.28M249.89 227.17L267.21 220.25M770.64 637.42L766.22 654.16M770.64 637.42L751.99 632.14M770.64 637.42L778.99 623.63M770.64 637.42L782.37 649.79M308.32 434.04L326.49 430.54M308.32 434.04L308.17 416.99M308.32 434.04L293.79 442.76M308.32 434.04L293.72 427.64M441.82 703.44L421.45 710.24M441.82 703.44L461.02 713.31M441.82 703.44L426.16 694.44M441.82 703.44L444.39 688.93M441.82 703.44L440.26 716.02M773.63 605.88L781.13 590.84M773.63 605.88L759.14 590.98M773.63 605.88L778.99 623.63M773.63 605.88L791.93 603.37M312.53 182.98L328.85 188.83M312.53 182.98L308.09 169.02M312.53 182.98L294.33 187.26M312.53 182.98L302.79 195.77M312.53 182.98L298.41 176.40M226.51 670.25L218.98 685.98M226.51 670.25L234.10 652.78M226.51 670.25L243.13 669.32M226.51 670.25L215.01 657.96M226.51 670.25L212.53 674.03M834.01 700.92L816.93 710.28M834.01 700.92L849.10 691.34M834.01 700.92L850.55 711.45M834.01 700.92L814.38 692.70M834.01 700.92L835.44 715.06M349.20 230.56L332.01 238.76M349.20 230.56L351.57 210.79M349.20 230.56L351.54 249.33M310.59 261.00L307.77 277.25M310.59 261.00L294.03 261.21M310.59 261.00L323.66 268.23M310.59 261.00L321.05 251.32M310.59 261.00L305.90 248.30M501.06 634.14L504.83 617.08M501.06 634.14L486.90 621.91M501.06 634.14L492.65 648.57M501.06 634.14L518.71 630.63M501.06 634.14L510.83 647.87M540.34 625.28L548.10 644.12M540.34 625.28L561.68 626.46M540.34 625.28L539.57 607.20M540.34 625.28L518.71 630.63M261.39 668.90L272.50 654.87M261.39 668.90L254.80 684.60M261.39 668.90L243.13 669.32M261.39 668.90L270.56 681.89M293.57 615.95L278.39 621.42M293.57 615.95L307.20 619.87M293.57 615.95L300.81 605.91M471.34 673.27L481.24 661.52M471.34 673.27L459.24 681.84M471.34 673.27L474.64 687.37M471.34 673.27L487.64 676.58M471.34 673.27L459.21 671.42M300.07 293.55L307.77 277.25M300.07 293.55L285.76 293.55M300.07 293.55L293.43 305.31M300.07 293.55L313.85 294.26M250.89 326.18L263.30 341.86M250.89 326.18L268.82 312.29M250.89 326.18L234.30 337.26M250.89 326.18L236.44 310.73M432.79 586.20L446.95 599.56M432.79 586.20L421.58 571.96M432.79 586.20L416.91 588.90M736.06 634.28L743.46 621.36M736.06 634.28L717.30 636.12M736.06 634.28L751.99 632.14M736.06 634.28L731.15 647.77M325.80 707.51L326.00 693.42M325.80 707.51L310.85 714.74M325.80 707.51L339.58 713.76M623.95 624.00L642.57 624.69M623.95 624.00L625.95 638.03M623.95 624.00L628.23 610.77M623.95 624.00L610.82 614.11M623.95 624.00L611.86 630.79M260.97 184.82L240.22 178.49M260.97 184.82L273.14 173.02M260.97 184.82L251.32 194.62M260.97 184.82L278.04 188.98M225.45 701.04L245.18 704.08M225.45 701.04L218.98 685.98M225.45 701.04L213.94 713.24M225.45 701.04L229.73 715.02M225.45 701.04L210.77 699.37M381.79 701.69L368.63 708.38M381.79 701.69L398.23 710.54M381.79 701.69L363.75 695.33M381.79 701.69L379.90 714.57M381.79 701.69L396.24 693.94M839.22 673.61L849.10 691.34M839.22 673.61L822.58 667.91M839.22 673.61L850.70 663.95M839.22 673.61L854.45 677.67M819.29 639.66L811.85 625.07M819.29 639.66L811.78 654.31M819.29 639.66L834.17 641.05M819.29 639.66L827.78 629.97M581.54 626.68L561.68 626.46M581.54 626.68L596.19 636.04M581.54 626.68L575.23 614.30M581.54 626.68L592.07 611.87M581.54 626.68L582.99 638.53M342.78 462.10L350.91 474.38M342.78 462.10L351.07 448.37M342.78 462.10L334.03 448.01M342.78 462.10L324.85 463.77M587.40 652.24L594.22 675.14M587.40 652.24L563.77 655.44M587.40 652.24L605.02 660.48M587.40 652.24L596.19 636.04M587.40 652.24L582.99 638.53M218.16 211.70L236.93 213.28M218.16 211.70L214.79 195.83M218.16 211.70L212.51 227.95M288.65 199.72L285.04 213.90M288.65 199.72L278.04 188.98M288.65 199.72L301.50 207.86M288.65 199.72L294.33 187.26M288.65 199.72L302.79 195.77M759.81 667.66L766.22 654.16M759.81 667.66L760.76 681.25M759.81 667.66L746.45 672.67M759.81 667.66L750.72 661.13M278.38 433.63L272.79 449.64M278.38 433.63L293.79 442.76M278.38 433.63L293.72 427.64M278.38 433.63L259.75 435.95M278.38 433.63L280.18 421.59M664.27 656.12L659.03 639.54M664.27 656.12L646.21 654.28M664.27 656.12L681.31 661.94M664.27 656.12L653.86 665.81M294.84 504.42L304.14 520.91M294.84 504.42L281.71 518.27M294.84 504.42L277.74 501.72M294.84 504.42L310.47 504.15M294.84 504.42L289.49 492.08M340.40 275.22L344.20 293.28M340.40 275.22L323.66 268.23M340.40 275.22L354.01 267.24M340.40 275.22L354.22 281.96M695.16 667.36L698.12 647.98M695.16 667.36L684.07 680.51M695.16 667.36L711.28 663.65M695.16 667.36L681.31 661.94M695.16 667.36L704.04 678.49M245.18 704.08L254.80 684.60M245.18 704.08L258.32 713.21M245.18 704.08L229.73 715.02M742.19 706.67L759.09 710.16M742.19 706.67L729.65 714.78M742.19 706.67L735.61 692.50M742.19 706.67L751.98 695.14M284.53 688.82L284.70 703.84M284.53 688.82L299.69 681.85M284.53 688.82L270.56 681.89M229.18 142.66L215.53 155.90M229.18 142.66L236.93 157.54M229.18 142.66L245.19 140.75M229.18 142.66L212.74 140.29M510.42 598.88L504.83 617.08M510.42 598.88L495.97 590.12M510.42 598.88L523.30 589.68M510.42 598.88L525.42 601.65M300.83 221.02L317.02 226.84M300.83 221.02L285.04 213.90M300.83 221.02L301.50 207.86M300.83 221.02L302.40 234.43M300.83 221.02L313.71 215.12M284.70 703.84L274.62 714.20M284.70 703.84L293.85 714.71M275.55 407.16L254.56 407.81M275.55 407.16L296.19 400.44M275.55 407.16L266.90 394.71M275.55 407.16L280.18 421.59M816.93 710.28L814.38 692.70M816.93 710.28L795.49 711.51M816.93 710.28L835.44 715.06M314.69 395.31L308.17 416.99M314.69 395.31L296.19 400.44M314.69 395.31L332.93 399.28M314.69 395.31L301.39 381.62M314.69 395.31L331.23 379.34M368.63 708.38L354.21 710.23M368.63 708.38L363.75 695.33M368.63 708.38L379.90 714.57M394.76 677.66L411.70 684.99M394.76 677.66L376.60 667.22M394.76 677.66L396.24 693.94M263.30 341.86L255.95 353.94M263.30 341.86L270.86 354.08M263.30 341.86L281.83 341.85M780.22 683.71L760.76 681.25M780.22 683.71L796.59 686.42M780.22 683.71L785.49 698.13M780.22 683.71L791.82 673.22M221.60 272.37L244.97 263.42M221.60 272.37L226.16 286.58M221.60 272.37L212.49 286.24M221.60 272.37L210.95 257.79M269.85 289.10L268.82 312.29M269.85 289.10L275.93 267.93M269.85 289.10L285.76 293.55M269.85 289.10L251.91 283.10M687.49 591.71L688.60 607.09M687.49 591.71L709.04 588.97M687.49 591.71L668.09 588.08M691.40 708.20L712.61 713.03M691.40 708.20L671.18 714.95M691.40 708.20L682.47 694.63M691.40 708.20L709.02 700.05M306.83 465.60L290.57 476.38M306.83 465.60L314.31 477.95M306.83 465.60L324.85 463.77M369.78 520.35L363.35 533.02M369.78 520.35L380.66 533.21M369.78 520.35L353.83 517.06M314.04 634.04L309.19 647.20M314.04 634.04L307.20 619.87M314.04 634.04L329.11 632.52M314.04 634.04L320.30 622.40M549.23 680.65L566.00 679.29M549.23 680.65L547.48 697.36M549.23 680.65L559.82 668.44M549.23 680.65L535.32 688.85M344.98 332.37L330.57 321.59M344.98 332.37L346.72 348.77M344.98 332.37L350.83 319.95M345.86 417.91L326.49 430.54M345.86 417.91L332.93 399.28M345.86 417.91L350.20 400.52M345.86 417.91L355.29 435.42M217.35 337.18L224.28 353.27M217.35 337.18L234.30 337.26M217.35 337.18L212.16 323.79M728.27 594.47L709.04 588.97M728.27 594.47L744.09 592.05M222.66 486.57L216.47 500.63M222.66 486.57L214.38 472.95M222.66 486.57L239.32 486.07M581.14 707.40L559.99 710.48M581.14 707.40L605.30 710.01M581.14 707.40L579.60 686.39M276.27 465.17L272.79 449.64M276.27 465.17L290.57 476.38M276.27 465.17L260.79 463.30M276.27 465.17L268.40 477.36M600.81 599.54L610.82 614.11M600.81 599.54L592.07 611.87M600.81 599.54L589.82 588.18M600.81 599.54L609.80 588.99M347.38 651.43L364.77 653.25M347.38 651.43L339.48 640.30M347.38 651.43L341.61 664.05M296.78 332.23L315.29 331.04M296.78 332.23L288.04 317.10M296.78 332.23L281.83 341.85M296.78 332.23L296.31 348.00M296.78 332.23L311.04 343.71M326.38 303.04L330.57 321.59M326.38 303.04L344.20 293.28M326.38 303.04L313.85 294.26M559.99 710.48L542.51 713.03M559.99 710.48L547.48 697.36M777.33 711.26L759.09 710.16M777.33 711.26L795.49 711.51M777.33 711.26L785.49 698.13M218.48 613.05L217.07 629.44M218.48 613.05L229.44 603.63M218.48 613.05L213.64 600.25M330.57 321.59L315.29 331.04M330.57 321.59L350.83 319.95M256.25 148.13L236.93 157.54M256.25 148.13L271.18 140.72M256.25 148.13L245.19 140.75M295.41 655.34L272.50 654.87M295.41 655.34L319.83 663.52M295.41 655.34L309.19 647.20M295.41 655.34L279.58 640.85M344.20 293.28L354.16 306.59M344.20 293.28L354.22 281.96M352.69 550.40L363.35 533.02M352.69 550.40L335.52 543.42M352.69 550.40L364.12 561.63M518.21 661.63L506.25 679.16M518.21 661.63L533.44 657.52M518.21 661.63L510.83 647.87M326.00 693.42L319.09 680.98M326.00 693.42L336.47 685.11M240.19 434.88L220.29 426.84M240.19 434.88L259.75 435.95M240.19 434.88L235.93 449.16M240.19 434.88L251.08 424.36M477.97 703.82L496.30 710.02M477.97 703.82L461.02 713.31M477.97 703.82L474.64 687.37M477.97 703.82L480.50 717.15M267.08 380.98L247.42 375.69M267.08 380.98L266.90 394.71M267.08 380.98L277.86 368.71M663.86 690.67L654.24 709.47M663.86 690.67L684.07 680.51M663.86 690.67L649.25 679.64M663.86 690.67L682.47 694.63M794.60 658.46L811.78 654.31M794.60 658.46L782.37 649.79M794.60 658.46L791.82 673.22M248.60 634.31L234.10 652.78M248.60 634.31L262.19 621.82M248.60 634.31L231.18 636.91M248.60 634.31L264.09 643.07M247.42 375.69L233.62 385.24M247.42 375.69L242.19 361.47M628.77 683.20L609.21 689.99M628.77 683.20L649.25 679.64M628.77 683.20L625.82 671.12M355.10 678.80L376.60 667.22M355.10 678.80L363.75 695.33M355.10 678.80L336.47 685.11M355.10 678.80L341.61 664.05M220.33 458.21L242.18 461.31M220.33 458.21L214.38 472.95M220.33 458.21L235.93 449.16M506.25 679.16L519.37 690.15M506.25 679.16L504.42 694.60M506.25 679.16L487.64 676.58M733.02 662.32L711.28 663.65M733.02 662.32L731.15 647.77M733.02 662.32L746.45 672.67M733.02 662.32L750.72 661.13M733.02 662.32L732.66 678.05M257.51 495.12L246.81 516.67M257.51 495.12L239.32 486.07M257.51 495.12L268.40 477.36M257.51 495.12L277.74 501.72M624.85 657.05L605.02 660.48M624.85 657.05L646.21 654.28M624.85 657.05L625.95 638.03M624.85 657.05L625.82 671.12M238.09 587.03L218.92 574.13M238.09 587.03L229.44 603.63M238.09 587.03L252.09 577.26M272.50 654.87L279.58 640.85M272.50 654.87L264.09 643.07M219.28 557.60L218.92 574.13M219.28 557.60L212.23 546.08M293.92 366.08L301.39 381.62M293.92 366.08L307.90 366.75M293.92 366.08L296.31 348.00M293.92 366.08L277.86 368.71M274.61 532.28L281.71 518.27M274.61 532.28L277.91 544.51M274.61 532.28L262.90 525.89M274.61 532.28L261.92 539.44M504.83 617.08L486.90 621.91M504.83 617.08L518.71 630.63M251.43 209.12L236.93 213.28M251.43 209.12L267.21 220.25M251.43 209.12L251.32 194.62M594.22 675.14L605.02 660.48M594.22 675.14L609.21 689.99M594.22 675.14L579.60 686.39M285.04 145.78L292.60 162.14M285.04 145.78L271.18 140.72M337.88 199.67L328.85 188.83M337.88 199.67L351.57 210.79M845.98 649.54L850.70 663.95M845.98 649.54L834.17 641.05M218.98 685.98L210.77 699.37M218.98 685.98L212.53 674.03M220.29 426.84L213.59 410.34M220.29 426.84L210.30 435.25M421.45 710.24L398.23 710.54M421.45 710.24L426.16 694.44M421.45 710.24L440.26 716.02M293.04 547.98L305.98 540.14M293.04 547.98L277.91 544.51M411.70 684.99L426.16 694.44M411.70 684.99L396.24 693.94M292.60 162.14L308.09 169.02M292.60 162.14L273.14 173.02M292.60 162.14L298.41 176.40M272.79 449.64L293.79 442.76M272.79 449.64L260.79 463.30M272.79 449.64L259.75 435.95M220.57 183.03L240.22 178.49M220.57 183.03L214.79 195.83M220.57 183.03L210.92 171.78M348.42 488.90L326.92 496.34M348.42 488.90L350.91 474.38M240.22 178.49L236.93 157.54M240.22 178.49L251.32 194.62M605.30 710.01L609.21 689.99M605.30 710.01L623.86 715.63M337.13 515.71L326.92 496.34M337.13 515.71L332.48 528.57M337.13 515.71L353.83 517.06M218.64 241.47L237.78 242.67M218.64 241.47L212.51 227.95M218.64 241.47L210.95 257.79M654.24 709.47L636.43 710.36M654.24 709.47L671.18 714.95M292.76 244.98L294.03 261.21M292.76 244.98L302.40 234.43M292.76 244.98L305.90 248.30M346.72 348.77L323.55 358.41M346.72 348.77L354.43 361.72M216.31 530.61L235.04 530.88M216.31 530.61L212.23 546.08M216.31 530.61L211.96 513.64M678.94 631.69L698.12 647.98M678.94 631.69L659.03 639.54M678.94 631.69L672.44 615.32M224.28 353.27L234.30 337.26M224.28 353.27L242.19 361.47M224.28 353.27L212.50 365.87M630.48 593.28L651.92 592.73M630.48 593.28L628.23 610.77M630.48 593.28L609.80 588.99M651.92 592.73L668.09 588.08M651.92 592.73L656.69 610.86M307.77 277.25L294.03 261.21M307.77 277.25L323.66 268.23M307.77 277.25L313.85 294.26M849.10 691.34L850.55 711.45M849.10 691.34L854.45 677.67M278.39 621.42L279.58 640.85M278.39 621.42L262.19 621.82M548.10 644.12L563.77 655.44M548.10 644.12L561.68 626.46M548.10 644.12L533.44 657.52M215.53 155.90L236.93 157.54M215.53 155.90L212.74 140.29M215.53 155.90L210.92 171.78M811.85 625.07L805.76 611.15M811.85 625.07L827.78 629.97M781.13 590.84L759.14 590.98M781.13 590.84L791.93 603.37M551.03 592.26L539.57 607.20M551.03 592.26L570.38 590.36M698.12 647.98L717.30 636.12M698.12 647.98L711.28 663.65M698.12 647.98L681.31 661.94M218.92 574.13L210.82 586.92M766.22 654.16L782.37 649.79M766.22 654.16L750.72 661.13M474.00 610.87L477.43 592.53M474.00 610.87L486.90 621.91M474.00 610.87L458.94 612.84M409.45 556.65L391.25 546.56M409.45 556.65L421.58 571.96M409.45 556.65L406.01 567.61M481.24 661.52L492.65 648.57M481.24 661.52L487.64 676.58M217.07 629.44L231.18 636.91M217.07 629.44L210.47 643.20M257.79 563.89L246.97 546.84M257.79 563.89L252.09 577.26M477.43 592.53L495.97 590.12M477.43 592.53L461.04 588.99M238.67 294.58L236.44 310.73M238.67 294.58L226.16 286.58M238.67 294.58L251.91 283.10M459.24 681.84L474.64 687.37M459.24 681.84L444.39 688.93M459.24 681.84L459.21 671.42M743.46 621.36L751.99 632.14M349.83 375.33L331.23 379.34M349.83 375.33L354.43 361.72M246.81 516.67L235.04 530.88M246.81 516.67L262.90 525.89M237.78 242.67L244.97 263.42M254.56 407.81L239.93 398.84M254.56 407.81L266.90 394.71M254.56 407.81L251.08 424.36M563.77 655.44L559.82 668.44M304.14 520.91L281.71 518.27M304.14 520.91L305.98 540.14M304.14 520.91L310.47 504.15M326.49 430.54L308.17 416.99M326.49 430.54L334.03 448.01M376.60 667.22L364.77 653.25M281.71 518.27L277.74 501.72M281.71 518.27L262.90 525.89M446.95 599.56L461.04 588.99M446.95 599.56L458.94 612.84M254.80 684.60L243.13 669.32M254.80 684.60L270.56 681.89M216.47 500.63L211.96 513.64M379.33 561.69L391.25 546.56M379.33 561.69L393.00 575.01M379.33 561.69L364.12 561.63M267.15 235.38L267.21 220.25M850.55 711.45L835.44 715.06M496.30 710.02L504.42 694.60M496.30 710.02L480.50 717.15M326.92 496.34L314.31 477.95M326.92 496.34L310.47 504.15M308.17 416.99L296.19 400.44M308.17 416.99L293.72 427.64M323.55 358.41L331.23 379.34M323.55 358.41L307.90 366.75M323.55 358.41L311.04 343.71M332.01 238.76L317.02 226.84M332.01 238.76L351.54 249.33M332.01 238.76L321.05 251.32M215.35 380.63L233.62 385.24M215.35 380.63L212.50 365.87M310.85 714.74L293.85 714.71M244.97 263.42L251.91 283.10M244.97 263.42L263.81 259.67M320.79 548.39L335.52 543.42M320.79 548.39L305.98 540.14M684.07 680.51L681.31 661.94M684.07 680.51L704.04 678.49M684.07 680.51L682.47 694.63M659.03 639.54L642.57 624.69M659.03 639.54L646.21 654.28M717.30 636.12L706.14 618.23M717.30 636.12L731.15 647.77M642.57 624.69L625.95 638.03M642.57 624.69L628.23 610.77M642.57 624.69L656.69 610.86M315.29 331.04L311.04 343.71M391.25 546.56L380.66 533.21M814.38 692.70L796.59 686.42M351.07 448.37L334.03 448.01M351.07 448.37L355.29 435.42M717.26 688.07L704.04 678.49M717.26 688.07L735.61 692.50M717.26 688.07L709.02 700.05M717.26 688.07L732.66 678.05M759.14 590.98L744.09 592.05M354.21 710.23L363.75 695.33M354.21 710.23L339.58 713.76M288.04 317.10L268.82 312.29M288.04 317.10L293.43 305.31M561.68 626.46L575.23 614.30M296.19 400.44L301.39 381.62M636.43 710.36L623.86 715.63M293.79 442.76L293.72 427.64M363.35 533.02L380.66 533.21M363.35 533.02L353.83 517.06M290.57 476.38L314.31 477.95M290.57 476.38L268.40 477.36M290.57 476.38L289.49 492.08M712.61 713.03L729.65 714.78M712.61 713.03L709.02 700.05M299.69 681.85L319.09 680.98M317.02 226.84L302.40 234.43M317.02 226.84L313.71 215.12M811.78 654.31L822.58 667.91M461.02 713.31L440.26 716.02M461.02 713.31L480.50 717.15M398.23 710.54L379.90 714.57M398.23 710.54L396.24 693.94M539.57 607.20L525.42 601.65M334.03 448.01L324.85 463.77M236.93 157.54L245.19 140.75M492.65 648.57L510.83 647.87M518.71 630.63L510.83 647.87M596.19 636.04L582.99 638.53M596.19 636.04L611.86 630.79M308.09 169.02L298.41 176.40M234.10 652.78L243.13 669.32M234.10 652.78L215.01 657.96M234.10 652.78L231.18 636.91M294.03 261.21L275.93 267.93M294.03 261.21L305.90 248.30M242.18 461.31L260.79 463.30M242.18 461.31L235.93 449.16M566.00 679.29L579.60 686.39M566.00 679.29L559.82 668.44M850.70 663.95L854.45 677.67M646.21 654.28L653.86 665.81M275.93 267.93L263.81 259.67M260.79 463.30L268.40 477.36M393.00 575.01L406.01 567.61M393.00 575.01L403.47 586.47M332.93 399.28L350.20 400.52M332.93 399.28L331.23 379.34M711.28 663.65L704.04 678.49M235.04 530.88L246.97 546.84M351.54 249.33L354.01 267.24M570.38 590.36L589.82 588.18M323.66 268.23L321.05 251.32M216.55 311.19L236.44 310.73M216.55 311.19L212.16 323.79M335.52 543.42L332.48 528.57M213.94 713.24L229.73 715.02M213.94 713.24L210.77 699.37M273.14 173.02L278.04 188.98M759.09 710.16L751.98 695.14M526.38 714.17L542.51 713.03M625.95 638.03L611.86 630.79M519.37 690.15L504.42 694.60M519.37 690.15L535.32 688.85M649.25 679.64L653.86 665.81M319.83 663.52L309.19 647.20M319.83 663.52L319.09 680.98M319.83 663.52L341.61 664.05M706.14 618.23L688.60 607.09M542.51 713.03L547.48 697.36M285.04 213.90L267.21 220.25M285.04 213.90L301.50 207.86M474.64 687.37L487.64 676.58M314.31 477.95L324.85 463.77M307.20 619.87L300.81 605.91M307.20 619.87L320.30 622.40M258.32 713.21L274.62 714.20M233.62 385.24L239.93 398.84M688.60 607.09L672.44 615.32M795.49 711.51L785.49 698.13M226.16 286.58L212.49 286.24M277.91 544.51L261.92 539.44M547.48 697.36L535.32 688.85M246.97 546.84L261.92 539.44M760.76 681.25L751.98 695.14M760.76 681.25L746.45 672.67M796.59 686.42L785.49 698.13M796.59 686.42L791.82 673.22M229.44 603.63L213.64 600.25M426.16 694.44L444.39 688.93M628.23 610.77L610.82 614.11M285.76 293.55L293.43 305.31M321.05 251.32L305.90 248.30M277.74 501.72L289.49 492.08M242.19 361.47L255.95 353.94M339.48 640.30L329.11 632.52M575.23 614.30L592.07 611.87M610.82 614.11L592.07 611.87M610.82 614.11L611.86 630.79M523.30 589.68L525.42 601.65M319.09 680.98L336.47 685.11M805.76 611.15L791.93 603.37M293.72 427.64L280.18 421.59M274.62 714.20L293.85 714.71M301.39 381.62L307.90 366.75M589.82 588.18L609.80 588.99M421.58 571.96L406.01 567.61M421.58 571.96L416.91 588.90M255.95 353.94L270.86 354.08M278.04 188.98L294.33 187.26M301.50 207.86L313.71 215.12M301.50 207.86L302.79 195.77M215.01 657.96L212.53 674.03M215.01 657.96L210.47 643.20M350.83 319.95L354.16 306.59M834.17 641.05L827.78 629.97M672.44 615.32L656.69 610.86M279.58 640.85L264.09 643.07M735.61 692.50L751.98 695.14M735.61 692.50L732.66 678.05M259.75 435.95L251.08 424.36M262.90 525.89L261.92 539.44M270.86 354.08L281.83 341.85M270.86 354.08L277.86 368.71M281.83 341.85L296.31 348.00M354.01 267.24L354.22 281.96M294.33 187.26L302.79 195.77M294.33 187.26L298.41 176.40M296.31 348.00L311.04 343.71M746.45 672.67L750.72 661.13M746.45 672.67L732.66 678.05M210.82 586.92L213.64 600.25M302.40 234.43L305.90 248.30M416.91 588.90L403.47 586.47M329.11 632.52L320.30 622.40"/>
<path d="M533.52 501.81L554.39 501.81M533.52 501.81L533.52 483.11M533.52 501.81L553.72 482.58M554.39 501.81L575.26 501.81M554.39 501.81L570.92 480.41M554.39 501.81L553.72 482.58M575.26 501.81L596.13 501.81M575.26 501.81L570.92 480.41M575.26 501.81L585.36 488.34M596.13 501.81L617.00 501.81M596.13 501.81L585.36 488.34M596.13 501.81L599.30 481.39M617.00 501.81L617.00 483.11M617.00 501.81L599.30 481.39M617.00 483.11L617.00 464.41M617.00 483.11L599.30 481.39M617.00 464.41L617.00 445.70M617.00 464.41L603.06 454.90M617.00 464.41L599.30 481.39M617.00 445.70L617.00 427.00M617.00 445.70L600.22 439.57M617.00 445.70L603.06 454.90M617.00 427.00L596.13 427.00M617.00 427.00L600.22 439.57M596.13 427.00L575.26 427.00M596.13 427.00L585.36 436.28M596.13 427.00L600.22 439.57M575.26 427.00L554.39 427.00M575.26 427.00L564.91 440.47M575.26 427.00L585.36 436.28M554.39 427.00L533.52 427.00M554.39 427.00L549.54 446.97M554.39 427.00L564.91 440.47M533.52 427.00L533.52 445.70M533.52 427.00L549.54 446.97M533.52 445.70L533.52 464.41M533.52 445.70L549.54 446.97M533.52 464.41L533.52 483.11M533.52 464.41L549.54 446.97M533.52 464.41L549.96 467.92M533.52 483.11L549.96 467.92M533.52 483.11L553.72 482.58M549.54 446.97L564.91 440.47M549.54 446.97L549.96 467.92M549.54 446.97L561.48 458.05M564.91 440.47L585.36 436.28M564.91 440.47L589.03 446.82M564.91 440.47L561.48 458.05M564.91 440.47L579.85 461.04M585.36 436.28L600.22 439.57M585.36 436.28L589.03 446.82M600.22 439.57L603.06 454.90M600.22 439.57L589.03 446.82M603.06 454.90L589.03 446.82M603.06 454.90L599.30 481.39M603.06 454.90L579.85 461.04M589.03 446.82L579.85 461.04M549.96 467.92L570.92 480.41M549.96 467.92L553.72 482.58M549.96 467.92L561.48 458.05M570.92 480.41L585.36 488.34M570.92 480.41L553.72 482.58M570.92 480.41L561.48 458.05M570.92 480.41L579.85 461.04M585.36 488.34L599.30 481.39M585.36 488.34L579.85 461.04M599.30 481.39L579.85 461.04M561.48 458.05L579.85 461.04"/>
<path d="M700.48 127.76L721.36 127.76M700.48 127.76L700.48 146.46M700.48 127.76L717.80 143.79M721.36 127.76L742.23 127.76M721.36 127.76L717.80 143.79M721.36 127.76L732.34 140.11M742.23 127.76L763.10 127.76M742.23 127.76L748.45 144.50M742.23 127.76L732.34 140.11M763.10 127.76L783.97 127.76M763.10 127.76L748.45 144.50M763.10 127.76L769.42 142.49M783.97 127.76L804.84 127.76M783.97 127.76L788.36 144.42M783.97 127.76L769.42 142.49M804.84 127.76L825.71 127.76M804.84 127.76L805.19 148.18M804.84 127.76L788.36 144.42M804.84 127.76L817.83 139.05M825.71 127.76L846.58 127.76M825.71 127.76L835.85 141.89M825.71 127.76L817.83 139.05M846.58 127.76L867.45 127.76M846.58 127.76L855.67 147.37M846.58 127.76L835.85 141.89M867.45 127.76L888.33 146.46M867.45 127.76L855.67 147.37M867.45 127.76L869.99 145.38M888.33 146.46L909.20 165.16M888.33 146.46L872.70 159.21M888.33 146.46L889.59 166.60M888.33 146.46L869.99 145.38M909.20 165.16L919.63 174.51M909.20 165.16L898.67 181.27M909.20 165.16L889.59 166.60M919.63 174.51L930.07 183.87M919.63 174.51L898.67 181.27M919.63 174.51L913.00 187.18M930.07 183.87L950.94 202.57M930.07 183.87L914.51 200.15M930.07 183.87L928.61 205.21M930.07 183.87L913.00 187.18M950.94 202.57L930.07 221.27M950.94 202.57L928.61 205.21M930.07 221.27L909.20 239.97M930.07 221.27L910.46 218.48M930.07 221.27L928.61 205.21M909.20 239.97L888.33 258.68M909.20 239.97L888.99 230.13M909.20 239.97L910.46 218.48M909.20 239.97L887.73 245.33M888.33 258.68L867.45 277.38M888.33 258.68L872.98 257.27M888.33 258.68L887.73 245.33M867.45 277.38L877.89 286.73M867.45 277.38L860.91 295.83M867.45 277.38L855.00 267.33M867.45 277.38L848.45 283.18M867.45 277.38L872.98 257.27M877.89 286.73L888.33 296.08M877.89 286.73L860.91 295.83M877.89 286.73L877.99 303.54M888.33 296.08L898.76 305.43M888.33 296.08L877.99 303.54M898.76 305.43L909.20 314.78M898.76 305.43L880.25 319.29M898.76 305.43L898.62 324.02M898.76 305.43L877.99 303.54M909.20 314.78L919.63 324.14M909.20 314.78L898.62 324.02M919.63 324.14L930.07 333.49M919.63 324.14L900.01 339.12M919.63 324.14L916.66 343.98M919.63 324.14L898.62 324.02M930.07 333.49L940.50 342.84M930.07 333.49L916.66 343.98M930.07 333.49L931.02 350.26M940.50 342.84L950.94 352.19M940.50 342.84L931.02 350.26M950.94 352.19L963.15 363.13M950.94 352.19L949.48 375.23M950.94 352.19L931.37 367.99M950.94 352.19L931.02 350.26M963.15 363.13L975.37 374.08M963.15 363.13L949.48 375.23M963.15 363.13L962.76 380.27M975.37 374.08L990.13 387.30M975.37 374.08L972.08 388.99M975.37 374.08L962.76 380.27M990.13 387.30L1004.88 400.53M990.13 387.30L973.56 404.66M990.13 387.30L989.22 410.72M990.13 387.30L972.08 388.99M1004.88 400.53L1019.64 413.75M1004.88 400.53L989.22 410.72M1004.88 400.53L1004.09 415.72M1019.64 413.75L1034.42 427.00M1019.64 413.75L1013.55 427.00M1019.64 413.75L1004.09 415.72M1034.42 427.00L1013.55 427.00M1013.55 427.00L992.68 427.00M1013.55 427.00L1004.09 415.72M992.68 427.00L971.81 427.00M992.68 427.00L989.22 410.72M992.68 427.00L1004.09 415.72M971.81 427.00L950.94 427.00M971.81 427.00L973.56 404.66M971.81 427.00L989.22 410.72M971.81 427.00L960.42 413.93M950.94 427.00L930.07 427.00M950.94 427.00L943.57 410.12M950.94 427.00L960.42 413.93M930.07 427.00L909.20 427.00M930.07 427.00L943.57 410.12M930.07 427.00L922.71 415.46M909.20 427.00L888.33 427.00M909.20 427.00L909.01 409.14M909.20 427.00L894.75 415.70M909.20 427.00L922.71 415.46M888.33 427.00L867.45 427.00M888.33 427.00L894.75 415.70M888.33 427.00L878.38 415.55M867.45 427.00L857.02 417.65M867.45 427.00L878.38 415.55M857.02 417.65L846.58 408.30M857.02 417.65L869.93 403.49M857.02 417.65L878.38 415.55M846.58 408.30L836.15 398.95M846.58 408.30L859.68 390.38M846.58 408.30L869.93 403.49M836.15 398.95L825.71 389.59M836.15 398.95L859.68 390.38M836.15 398.95L843.62 381.87M825.71 389.59L815.28 380.24M825.71 389.59L843.62 381.87M825.71 389.59L830.05 375.34M815.28 380.24L804.84 370.89M815.28 380.24L821.18 362.80M815.28 380.24L830.05 375.34M804.84 370.89L783.97 352.19M804.84 370.89L821.18 362.80M804.84 370.89L803.28 354.50M783.97 352.19L773.53 342.84M783.97 352.19L796.15 338.74M783.97 352.19L803.28 354.50M773.53 342.84L763.10 333.49M773.53 342.84L796.15 338.74M773.53 342.84L780.07 326.56M763.10 333.49L742.23 314.78M763.10 333.49L780.07 326.56M763.10 333.49L764.43 314.89M742.23 314.78L731.79 305.43M742.23 314.78L754.90 301.47M742.23 314.78L764.43 314.89M731.79 305.43L721.36 296.08M731.79 305.43L747.65 286.69M731.79 305.43L754.90 301.47M731.79 305.43L731.81 286.80M721.36 296.08L700.48 277.38M721.36 296.08L719.34 274.57M721.36 296.08L731.81 286.80M700.48 277.38L700.48 258.68M700.48 277.38L719.34 274.57M700.48 258.68L700.48 239.97M700.48 258.68L719.34 274.57M700.48 258.68L721.21 255.15M700.48 239.97L700.48 221.27M700.48 239.97L721.21 255.15M700.48 239.97L719.45 237.04M700.48 221.27L700.48 202.57M700.48 221.27L723.93 222.71M700.48 221.27L719.05 207.37M700.48 221.27L719.45 237.04M700.48 202.57L700.48 183.87M700.48 202.57L719.05 207.37M700.48 202.57L717.43 188.30M700.48 183.87L700.48 165.16M700.48 183.87L717.43 188.30M700.48 183.87L711.37 173.97M700.48 165.16L700.48 146.46M700.48 165.16L715.50 160.06M700.48 165.16L711.37 173.97M700.48 146.46L717.80 143.79M700.48 146.46L715.50 160.06M786.82 224.25L765.39 228.01M786.82 224.25L807.26 224.55M786.82 224.25L776.90 241.79M786.82 224.25L799.53 211.03M786.82 224.25L776.01 210.09M786.82 224.25L795.93 235.71M807.50 279.44L825.01 287.57M807.50 279.44L791.10 280.52M807.50 279.44L802.37 267.57M807.50 279.44L802.57 291.68M807.50 279.44L820.68 271.29M842.27 206.54L841.25 225.04M842.27 206.54L822.98 213.48M842.27 206.54L857.89 199.51M842.27 206.54L854.87 214.27M842.27 206.54L827.79 197.56M842.27 206.54L844.05 191.49M756.09 183.73L759.79 202.12M756.09 183.73L749.39 164.79M756.09 183.73L737.18 179.87M756.09 183.73L766.22 170.68M756.09 183.73L774.88 189.78M756.09 183.73L746.70 195.13M838.85 330.98L829.94 315.99M838.85 330.98L817.43 327.87M838.85 330.98L859.66 326.79M838.85 330.98L834.13 347.86M838.85 330.98L853.41 343.82M838.85 330.98L846.21 311.60M838.85 330.98L826.53 338.68M881.21 368.17L899.47 379.97M881.21 368.17L867.28 355.15M881.21 368.17L861.80 372.46M881.21 368.17L880.36 387.05M881.21 368.17L900.37 357.37M881.21 368.17L871.59 379.47M881.21 368.17L884.47 350.58M804.05 172.83L784.33 174.11M804.05 172.83L824.39 170.14M804.05 172.83L796.38 186.43M804.05 172.83L815.30 184.83M804.05 172.83L794.32 160.72M804.05 172.83L810.02 161.15M761.84 253.58L776.90 241.79M761.84 253.58L753.69 242.05M761.84 253.58L759.62 268.88M761.84 253.58L744.18 255.66M761.84 253.58L775.47 257.09M920.24 384.11L925.96 402.09M920.24 384.11L899.47 379.97M920.24 384.11L931.37 367.99M920.24 384.11L909.40 394.73M920.24 384.11L938.32 389.31M920.24 384.11L913.11 369.81M888.53 207.42L869.95 210.15M888.53 207.42L879.01 193.95M888.53 207.42L880.89 218.60M888.53 207.42L894.74 217.38M888.53 207.42L899.62 196.44M888.53 207.42L902.28 208.78M830.96 240.20L841.25 225.04M830.96 240.20L841.20 255.70M830.96 240.20L812.76 240.94M830.96 240.20L850.94 241.09M830.96 240.20L822.49 228.31M830.96 240.20L826.45 251.74M798.32 318.84L781.44 310.02M798.32 318.84L814.17 305.96M798.32 318.84L796.15 338.74M798.32 318.84L817.43 327.87M798.32 318.84L780.07 326.56M798.32 318.84L796.32 304.23M842.15 296.55L825.01 287.57M842.15 296.55L860.91 295.83M842.15 296.55L846.21 311.60M842.15 296.55L848.45 283.18M842.15 296.55L830.99 303.48M741.13 211.93L732.50 196.66M741.13 211.93L759.79 202.12M741.13 211.93L723.93 222.71M741.13 211.93L719.05 207.37M741.13 211.93L746.70 195.13M741.13 211.93L757.84 217.28M741.13 211.93L741.86 229.98M841.88 160.32L823.01 152.90M841.88 160.32L855.67 147.37M841.88 160.32L824.39 170.14M841.88 160.32L835.85 141.89M841.88 160.32L844.19 177.08M841.88 160.32L859.20 168.18M877.72 337.46L900.01 339.12M877.72 337.46L867.28 355.15M877.72 337.46L880.25 319.29M877.72 337.46L859.66 326.79M877.72 337.46L853.41 343.82M877.72 337.46L898.62 324.02M877.72 337.46L884.47 350.58M770.33 285.70L747.65 286.69M770.33 285.70L782.26 268.36M770.33 285.70L754.90 301.47M770.33 285.70L785.65 295.20M770.33 285.70L759.62 268.88M770.33 285.70L791.10 280.52M770.33 285.70L770.80 300.86M844.63 362.66L867.28 355.15M844.63 362.66L861.80 372.46M844.63 362.66L843.62 381.87M844.63 362.66L821.18 362.80M844.63 362.66L834.13 347.86M844.63 362.66L853.41 343.82M844.63 362.66L830.05 375.34M732.25 157.76L723.03 172.74M732.25 157.76L717.80 143.79M732.25 157.76L749.39 164.79M732.25 157.76L748.45 144.50M732.25 157.76L737.18 179.87M732.25 157.76L715.50 160.06M732.25 157.76L732.34 140.11M877.21 177.03L860.09 184.30M877.21 177.03L872.70 159.21M877.21 177.03L898.67 181.27M877.21 177.03L889.59 166.60M877.21 177.03L879.01 193.95M877.21 177.03L859.20 168.18M957.09 395.25L973.56 404.66M957.09 395.25L949.48 375.23M957.09 395.25L943.57 410.12M957.09 395.25L972.08 388.99M957.09 395.25L938.32 389.31M957.09 395.25L960.42 413.93M957.09 395.25L962.76 380.27M809.68 198.81L790.43 198.86M809.68 198.81L822.98 213.48M809.68 198.81L796.38 186.43M809.68 198.81L799.53 211.03M809.68 198.81L815.30 184.83M809.68 198.81L827.79 197.56M864.89 227.08L888.99 230.13M864.89 227.08L869.95 210.15M864.89 227.08L841.25 225.04M864.89 227.08L871.94 242.69M864.89 227.08L850.94 241.09M864.89 227.08L880.89 218.60M864.89 227.08L854.87 214.27M837.60 271.63L825.01 287.57M837.60 271.63L841.20 255.70M837.60 271.63L855.00 267.33M837.60 271.63L848.45 283.18M837.60 271.63L820.68 271.29M837.60 271.63L829.62 262.37M776.87 158.06L760.58 154.95M776.87 158.06L784.33 174.11M776.87 158.06L788.36 144.42M776.87 158.06L769.42 142.49M776.87 158.06L766.22 170.68M776.87 158.06L794.32 160.72M891.62 400.56L899.47 379.97M891.62 400.56L909.01 409.14M891.62 400.56L880.36 387.05M891.62 400.56L869.93 403.49M891.62 400.56L909.40 394.73M891.62 400.56L894.75 415.70M891.62 400.56L878.38 415.55M795.24 252.68L815.87 258.43M795.24 252.68L782.26 268.36M795.24 252.68L776.90 241.79M795.24 252.68L812.76 240.94M795.24 252.68L795.93 235.71M795.24 252.68L802.37 267.57M795.24 252.68L775.47 257.09M917.58 358.07L931.37 367.99M917.58 358.07L900.37 357.37M917.58 358.07L916.66 343.98M917.58 358.07L913.11 369.81M917.58 358.07L931.02 350.26M734.73 244.41L721.21 255.15M734.73 244.41L753.69 242.05M734.73 244.41L719.45 237.04M734.73 244.41L744.18 255.66M734.73 244.41L741.86 229.98M815.98 345.75L821.18 362.80M815.98 345.75L796.15 338.74M815.98 345.75L817.43 327.87M815.98 345.75L834.13 347.86M815.98 345.75L803.28 354.50M815.98 345.75L826.53 338.68M864.46 311.88L880.25 319.29M864.46 311.88L859.66 326.79M864.46 311.88L860.91 295.83M864.46 311.88L846.21 311.60M864.46 311.88L877.99 303.54M781.44 310.02L785.65 295.20M781.44 310.02L780.07 326.56M781.44 310.02L764.43 314.89M781.44 310.02L796.32 304.23M781.44 310.02L770.80 300.86M790.43 198.86L796.38 186.43M790.43 198.86L799.53 211.03M790.43 198.86L776.01 210.09M790.43 198.86L774.88 189.78M732.50 196.66L719.05 207.37M732.50 196.66L737.18 179.87M732.50 196.66L746.70 195.13M732.50 196.66L717.43 188.30M823.01 152.90L805.19 148.18M823.01 152.90L824.39 170.14M823.01 152.90L835.85 141.89M823.01 152.90L817.83 139.05M823.01 152.90L810.02 161.15M737.29 270.88L747.65 286.69M737.29 270.88L719.34 274.57M737.29 270.88L721.21 255.15M737.29 270.88L759.62 268.88M737.29 270.88L744.18 255.66M737.29 270.88L731.81 286.80M765.39 228.01L776.90 241.79M765.39 228.01L753.69 242.05M765.39 228.01L776.01 210.09M765.39 228.01L757.84 217.28M765.39 228.01L741.86 229.98M814.17 305.96L829.94 315.99M814.17 305.96L825.01 287.57M814.17 305.96L817.43 327.87M814.17 305.96L796.32 304.23M814.17 305.96L830.99 303.48M814.17 305.96L802.57 291.68M859.68 390.38L861.80 372.46M859.68 390.38L843.62 381.87M859.68 390.38L880.36 387.05M859.68 390.38L869.93 403.49M859.68 390.38L871.59 379.47M914.51 200.15L910.46 218.48M914.51 200.15L928.61 205.21M914.51 200.15L913.00 187.18M914.51 200.15L899.62 196.44M914.51 200.15L902.28 208.78M807.26 224.55L822.98 213.48M807.26 224.55L812.76 240.94M807.26 224.55L799.53 211.03M807.26 224.55L795.93 235.71M807.26 224.55L822.49 228.31M900.01 339.12L900.37 357.37M900.01 339.12L916.66 343.98M900.01 339.12L898.62 324.02M900.01 339.12L884.47 350.58M860.09 184.30L879.01 193.95M860.09 184.30L857.89 199.51M860.09 184.30L844.19 177.08M860.09 184.30L859.20 168.18M860.09 184.30L844.05 191.49M925.96 402.09L909.01 409.14M925.96 402.09L943.57 410.12M925.96 402.09L909.40 394.73M925.96 402.09L938.32 389.31M925.96 402.09L922.71 415.46M760.58 154.95L749.39 164.79M760.58 154.95L748.45 144.50M760.58 154.95L769.42 142.49M760.58 154.95L766.22 170.68M888.99 230.13L910.46 218.48M888.99 230.13L871.94 242.69M888.99 230.13L880.89 218.60M888.99 230.13L894.74 217.38M888.99 230.13L887.73 245.33M747.65 286.69L754.90 301.47M747.65 286.69L759.62 268.88M747.65 286.69L731.81 286.80M872.70 159.21L855.67 147.37M872.70 159.21L889.59 166.60M872.70 159.21L869.99 145.38M872.70 159.21L859.20 168.18M858.90 253.69L841.20 255.70M858.90 253.69L871.94 242.69M858.90 253.69L850.94 241.09M858.90 253.69L855.00 267.33M858.90 253.69L872.98 257.27M831.16 184.74L824.39 170.14M831.16 184.74L815.30 184.83M831.16 184.74L844.19 177.08M831.16 184.74L827.79 197.56M831.16 184.74L844.05 191.49M723.03 172.74L737.18 179.87M723.03 172.74L715.50 160.06M723.03 172.74L717.43 188.30M723.03 172.74L711.37 173.97M805.19 148.18L788.36 144.42M805.19 148.18L794.32 160.72M805.19 148.18L817.83 139.05M805.19 148.18L810.02 161.15M973.56 404.66L989.22 410.72M973.56 404.66L972.08 388.99M973.56 404.66L960.42 413.93M759.79 202.12L776.01 210.09M759.79 202.12L774.88 189.78M759.79 202.12L746.70 195.13M759.79 202.12L757.84 217.28M869.95 210.15L879.01 193.95M869.95 210.15L857.89 199.51M869.95 210.15L880.89 218.60M869.95 210.15L854.87 214.27M949.48 375.23L931.37 367.99M949.48 375.23L938.32 389.31M949.48 375.23L962.76 380.27M815.87 258.43L812.76 240.94M815.87 258.43L802.37 267.57M815.87 258.43L820.68 271.29M815.87 258.43L826.45 251.74M815.87 258.43L829.62 262.37M841.25 225.04L822.98 213.48M841.25 225.04L850.94 241.09M841.25 225.04L854.87 214.27M841.25 225.04L822.49 228.31M723.93 222.71L719.05 207.37M723.93 222.71L719.45 237.04M723.93 222.71L741.86 229.98M899.47 379.97L880.36 387.05M899.47 379.97L900.37 357.37M899.47 379.97L909.40 394.73M899.47 379.97L913.11 369.81M867.28 355.15L861.80 372.46M867.28 355.15L853.41 343.82M867.28 355.15L884.47 350.58M784.33 174.11L796.38 186.43M784.33 174.11L766.22 170.68M784.33 174.11L794.32 160.72M784.33 174.11L774.88 189.78M782.26 268.36L759.62 268.88M782.26 268.36L791.10 280.52M782.26 268.36L802.37 267.57M782.26 268.36L775.47 257.09M880.25 319.29L859.66 326.79M880.25 319.29L898.62 324.02M880.25 319.29L877.99 303.54M898.67 181.27L889.59 166.60M898.67 181.27L879.01 193.95M898.67 181.27L913.00 187.18M898.67 181.27L899.62 196.44M861.80 372.46L843.62 381.87M861.80 372.46L871.59 379.47M829.94 315.99L817.43 327.87M829.94 315.99L846.21 311.60M829.94 315.99L830.99 303.48M909.01 409.14L909.40 394.73M909.01 409.14L894.75 415.70M909.01 409.14L922.71 415.46M843.62 381.87L830.05 375.34M821.18 362.80L834.13 347.86M821.18 362.80L803.28 354.50M821.18 362.80L830.05 375.34M754.90 301.47L764.43 314.89M754.90 301.47L770.80 300.86M796.15 338.74L817.43 327.87M796.15 338.74L780.07 326.56M796.15 338.74L803.28 354.50M910.46 218.48L928.61 205.21M910.46 218.48L894.74 217.38M910.46 218.48L902.28 208.78M855.67 147.37L869.99 145.38M855.67 147.37L835.85 141.89M855.67 147.37L859.20 168.18M785.65 295.20L791.10 280.52M785.65 295.20L796.32 304.23M785.65 295.20L802.57 291.68M785.65 295.20L770.80 300.86M776.90 241.79L753.69 242.05M776.90 241.79L795.93 235.71M776.90 241.79L775.47 257.09M825.01 287.57L848.45 283.18M825.01 287.57L830.99 303.48M825.01 287.57L802.57 291.68M825.01 287.57L820.68 271.29M719.34 274.57L721.21 255.15M719.34 274.57L731.81 286.80M880.36 387.05L869.93 403.49M880.36 387.05L871.59 379.47M817.43 327.87L826.53 338.68M859.66 326.79L853.41 343.82M859.66 326.79L846.21 311.60M721.21 255.15L719.45 237.04M721.21 255.15L744.18 255.66M834.13 347.86L853.41 343.82M834.13 347.86L826.53 338.68M931.37 367.99L938.32 389.31M931.37 367.99L913.11 369.81M931.37 367.99L931.02 350.26M869.93 403.49L878.38 415.55M824.39 170.14L815.30 184.83M824.39 170.14L844.19 177.08M824.39 170.14L810.02 161.15M717.80 143.79L715.50 160.06M717.80 143.79L732.34 140.11M841.20 255.70L850.94 241.09M841.20 255.70L855.00 267.33M841.20 255.70L826.45 251.74M841.20 255.70L829.62 262.37M900.37 357.37L916.66 343.98M900.37 357.37L913.11 369.81M900.37 357.37L884.47 350.58M719.05 207.37L717.43 188.30M822.98 213.48L799.53 211.03M822.98 213.48L827.79 197.56M822.98 213.48L822.49 228.31M871.94 242.69L850.94 241.09M871.94 242.69L872.98 257.27M871.94 242.69L887.73 245.33M749.39 164.79L748.45 144.50M749.39 164.79L737.18 179.87M749.39 164.79L766.22 170.68M989.22 410.72L1004.09 415.72M812.76 240.94L795.93 235.71M812.76 240.94L822.49 228.31M812.76 240.94L826.45 251.74M943.57 410.12L938.32 389.31M943.57 410.12L960.42 413.93M943.57 410.12L922.71 415.46M753.69 242.05L744.18 255.66M753.69 242.05L741.86 229.98M780.07 326.56L764.43 314.89M860.91 295.83L846.21 311.60M860.91 295.83L848.45 283.18M860.91 295.83L877.99 303.54M759.62 268.88L744.18 255.66M759.62 268.88L775.47 257.09M788.36 144.42L769.42 142.49M788.36 144.42L794.32 160.72M796.38 186.43L815.30 184.83M796.38 186.43L774.88 189.78M879.01 193.95L857.89 199.51M879.01 193.95L899.62 196.44M748.45 144.50L769.42 142.49M748.45 144.50L732.34 140.11M916.66 343.98L931.02 350.26M719.45 237.04L741.86 229.98M799.53 211.03L776.01 210.09M737.18 179.87L746.70 195.13M737.18 179.87L717.43 188.30M776.01 210.09L774.88 189.78M776.01 210.09L757.84 217.28M815.30 184.83L827.79 197.56M972.08 388.99L962.76 380.27M835.85 141.89L817.83 139.05M764.43 314.89L770.80 300.86M766.22 170.68L774.88 189.78M791.10 280.52L802.37 267.57M791.10 280.52L802.57 291.68M857.89 199.51L854.87 214.27M857.89 199.51L844.05 191.49M846.21 311.60L830.99 303.48M880.89 218.60L894.74 217.38M794.32 160.72L810.02 161.15M844.19 177.08L859.20 168.18M844.19 177.08L844.05 191.49M757.84 217.28L741.86 229.98M855.00 267.33L848.45 283.18M855.00 267.33L872.98 257.27M715.50 160.06L711.37 173.97M894.75 415.70L878.38 415.55M717.43 188.30L711.37 173.97M802.37 267.57L820.68 271.29M796.32 304.23L802.57 291.68M827.79 197.56L844.05 191.49M820.68 271.29L829.62 262.37M894.74 217.38L902.28 208.78M913.00 187.18L899.62 196.44M899.62 196.44L902.28 208.78M872.98 257.27L887.73 245.33M826.45 251.74L829.62 262.37"/>
</g>
<g fill="#0000ff">
<circle cx="249.7" cy="247.5" r="11.2"/>
<circle cx="324.8" cy="576.6" r="11.2"/>
<circle cx="283.1" cy="614.0" r="11.2"/>
<circle cx="316.5" cy="666.4" r="11.2"/>
<circle cx="458.4" cy="509.3" r="11.2"/>
<circle cx="583.6" cy="464.4" r="11.2"/>
<circle cx="683.8" cy="666.4" r="11.2"/>
<circle cx="725.5" cy="359.7" r="11.2"/>
<circle cx="784.0" cy="202.6" r="11.2"/>
<circle cx="880.0" cy="277.4" r="11.2"/>
<circle cx="942.6" cy="344.7" r="11.2"/>
</g>
<path d="M199.6 822 v11M617.0 822 v11M1034.4 822 v11M66 726.2 h-11M66 576.6 h-11M66 427.0 h-11M66 277.4 h-11M66 127.8 h-11" stroke="#000" stroke-width="2" fill="none"/>
<rect x="66" y="32" width="1102" height="790" fill="none" stroke="#000" stroke-width="2"/>
<g font-family="'Liberation Sans', sans-serif" font-size="29" fill="#000">
<text x="199.1" y="864.7" text-anchor="middle">0</text>
<text x="616.5" y="864.7" text-anchor="middle">5</text>
<text x="1033.9" y="864.7" text-anchor="middle">10</text>
<text x="46.3" y="736.6" text-anchor="end">0</text>
<text x="46.3" y="587.0" text-anchor="end">2</text>
<text x="46.3" y="437.4" text-anchor="end">4</text>
<text x="46.3" y="287.8" text-anchor="end">6</text>
<text x="46.3" y="138.2" text-anchor="end">8</text>
</g></svg>
</body></html>
